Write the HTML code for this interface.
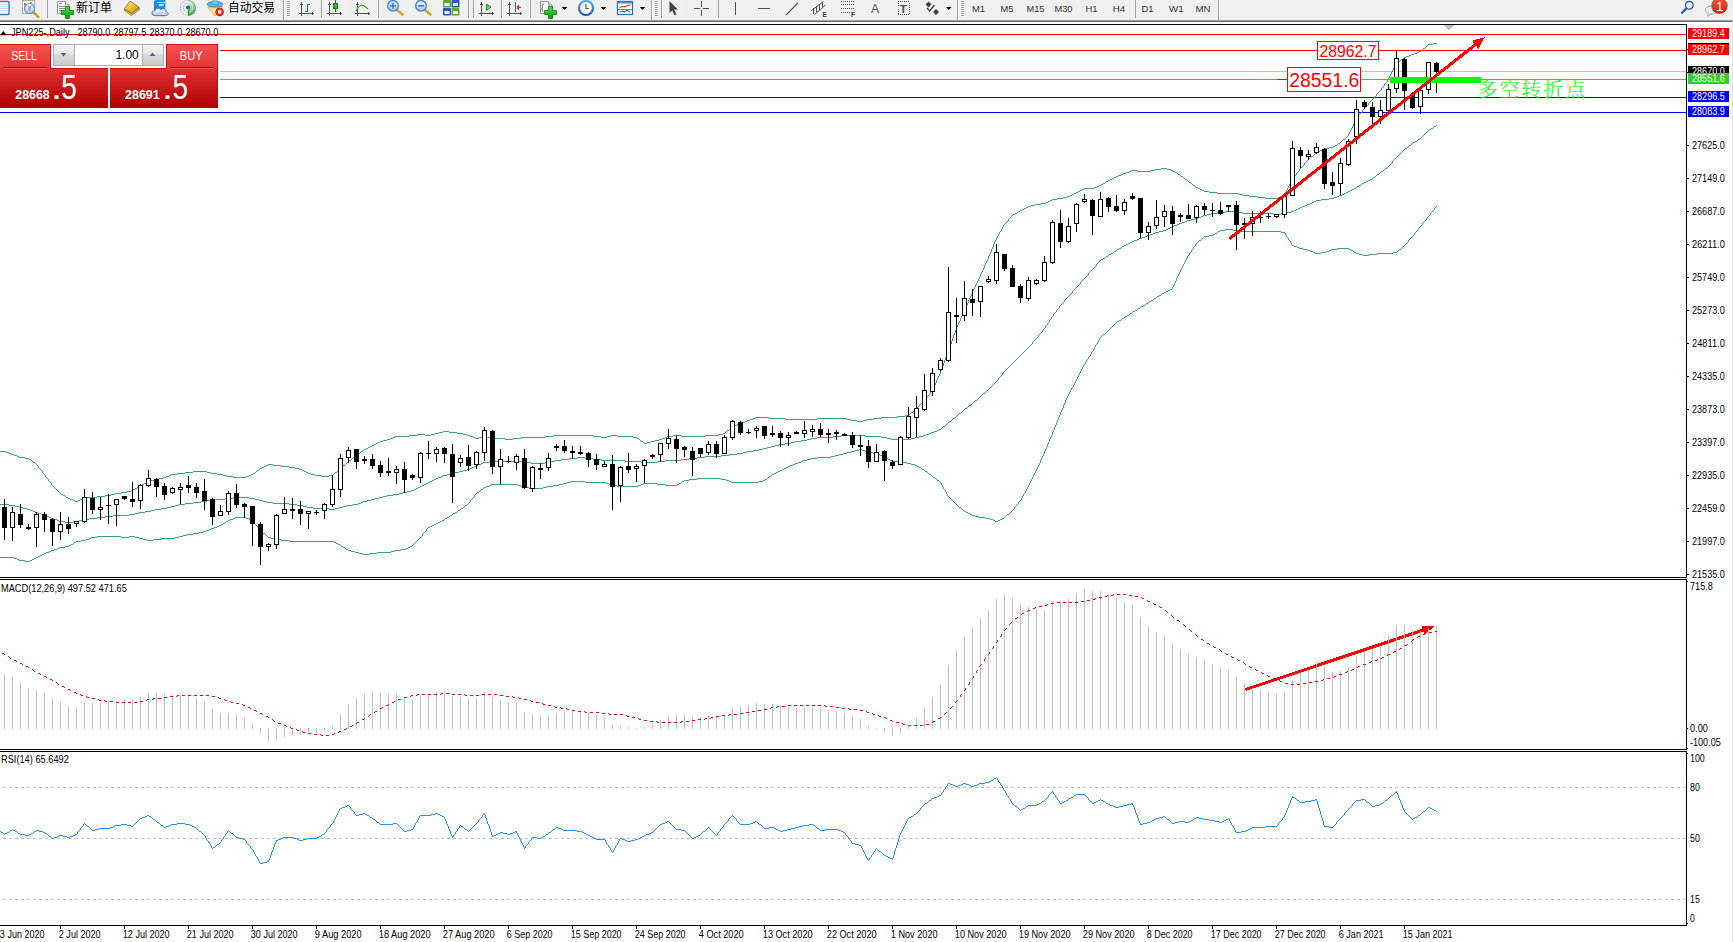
<!DOCTYPE html>
<html><head><meta charset="utf-8"><title>JPN225 Daily</title>
<style>
html,body{margin:0;padding:0;background:#fff;}
body{width:1733px;height:942px;overflow:hidden;position:relative;font-family:"Liberation Sans","Noto Sans CJK SC",sans-serif;}
#tb{position:absolute;left:0;top:0;width:1733px;height:20px;background:#f0f0f0;}
#tbl1{position:absolute;left:0;top:20px;width:1733px;height:1px;background:#a0a0a0;}
#tbl2{position:absolute;left:0;top:21px;width:1733px;height:1px;background:#696969;}
</style></head><body>
<div id="tb"></div><div id="tbl1"></div><div id="tbl2"></div>
<svg width="1733" height="942" viewBox="0 0 1733 942" style="position:absolute;left:0;top:0" font-family="Liberation Sans, sans-serif"><g shape-rendering="crispEdges">
<rect x="0" y="24" width="1687" height="1" fill="#000"/>
<rect x="1686" y="24" width="1" height="902" fill="#000"/>
<rect x="0" y="577" width="1687" height="1" fill="#000"/>
<rect x="0" y="579" width="1687" height="1" fill="#000"/>
<rect x="0" y="749" width="1687" height="1" fill="#000"/>
<rect x="0" y="751" width="1687" height="1" fill="#000"/>
<rect x="0" y="925" width="1687" height="1" fill="#000"/>
<rect x="1686" y="578" width="1" height="1" fill="#fff"/>
<rect x="1686" y="750" width="1" height="1" fill="#fff"/>
<rect x="1732" y="21" width="1" height="921" fill="#e3e3e3"/>
<rect x="0" y="34" width="1686" height="1" fill="#ff0000"/>
<rect x="0" y="50" width="1686" height="1" fill="#ff0000"/>
<rect x="0" y="71" width="1686" height="1" fill="#c0c0c0"/>
<rect x="0" y="79" width="1686" height="1" fill="#32cd32"/>
<rect x="0" y="97" width="1686" height="1" fill="#0000ff"/>
<rect x="0" y="112" width="1686" height="1" fill="#0000ff"/>
</g>
<path d="M955 330h1v3h-1zM945 357h1v3h-1zM993 244h1v3h-1zM944 360h1v3h-1zM948 349h1v3h-1zM968 300h1v3h-1zM980 274h1v3h-1zM947 352h1v3h-1zM941 368h1v3h-1zM940 371h1v3h-1zM956 327h1v3h-1zM964 309h1v3h-1zM988 256h1v3h-1zM951 341h1v3h-1zM936 380h1v3h-1zM960 318h1v3h-1zM972 291h1v3h-1zM984 265h1v3h-1zM991 249h1v3h-1zM949 346h1v3h-1zM953 335h1v3h-1zM952 338h1v3h-1zM943 363h1v3h-1zM1433 43h4v1h-4zM1428 44h5v1h-5zM1427 45h1v1h-1zM1426 46h1v1h-1zM1425 47h1v1h-1zM1423 48h2v1h-2zM1422 49h1v1h-1zM1421 50h1v1h-1zM1419 51h2v1h-2zM1417 52h2v1h-2zM1414 53h3v1h-3zM1411 54h3v1h-3zM1409 55h2v1h-2zM1406 56h3v1h-3zM1404 57h2v1h-2zM1403 58h1v1h-1zM1401 59h2v1h-2zM1400 60h1v1h-1zM1399 61h1v1h-1zM1397 62h2v1h-2zM1396 63h1v1h-1zM1395 64h1v1h-1zM1395 65h1v1h-1zM1394 66h1v1h-1zM1394 67h1v1h-1zM1393 68h1v1h-1zM1393 69h1v1h-1zM1392 70h1v1h-1zM1392 71h1v1h-1zM1391 72h1v1h-1zM1391 73h1v1h-1zM1390 74h1v1h-1zM1390 75h1v1h-1zM1389 76h1v1h-1zM1389 77h1v1h-1zM1388 78h1v1h-1zM1388 79h1v1h-1zM1387 80h1v1h-1zM1387 81h1v1h-1zM1386 82h1v1h-1zM1385 83h1v1h-1zM1384 84h1v1h-1zM1384 85h1v1h-1zM1383 86h1v1h-1zM1382 87h1v1h-1zM1381 88h1v1h-1zM1381 89h1v1h-1zM1380 90h1v1h-1zM1379 91h1v1h-1zM1378 92h1v1h-1zM1377 93h1v1h-1zM1376 94h1v1h-1zM1376 95h1v1h-1zM1375 96h1v1h-1zM1374 97h1v1h-1zM1373 98h1v1h-1zM1372 99h1v1h-1zM1371 100h1v1h-1zM1370 101h1v1h-1zM1369 102h1v1h-1zM1368 103h1v1h-1zM1368 104h1v1h-1zM1367 105h1v1h-1zM1366 106h1v1h-1zM1365 107h1v1h-1zM1364 108h1v1h-1zM1363 109h1v1h-1zM1362 110h1v1h-1zM1362 111h1v1h-1zM1361 112h1v1h-1zM1360 113h1v1h-1zM1359 114h1v1h-1zM1358 115h1v1h-1zM1358 116h1v1h-1zM1357 117h1v1h-1zM1356 118h1v1h-1zM1356 119h1v1h-1zM1355 120h1v1h-1zM1355 121h1v1h-1zM1354 122h1v1h-1zM1354 123h1v1h-1zM1353 124h1v1h-1zM1353 125h1v1h-1zM1352 126h1v1h-1zM1352 127h1v1h-1zM1351 128h1v1h-1zM1351 129h1v1h-1zM1350 130h1v1h-1zM1350 131h1v1h-1zM1349 132h1v1h-1zM1349 133h1v1h-1zM1348 134h1v1h-1zM1348 135h1v1h-1zM1347 136h1v1h-1zM1346 137h1v1h-1zM1345 138h1v1h-1zM1343 139h2v1h-2zM1342 140h1v1h-1zM1341 141h1v1h-1zM1340 142h1v1h-1zM1338 143h2v1h-2zM1337 144h1v1h-1zM1335 145h2v1h-2zM1333 146h2v1h-2zM1329 147h4v1h-4zM1324 148h5v1h-5zM1322 149h2v1h-2zM1320 150h2v1h-2zM1318 151h2v1h-2zM1316 152h2v1h-2zM1315 153h1v1h-1zM1314 154h1v1h-1zM1313 155h1v1h-1zM1311 156h2v1h-2zM1310 157h1v1h-1zM1309 158h1v1h-1zM1308 159h1v1h-1zM1307 160h1v1h-1zM1306 161h1v1h-1zM1305 162h1v1h-1zM1304 163h1v1h-1zM1304 164h1v1h-1zM1303 165h1v1h-1zM1302 166h1v1h-1zM1301 167h1v1h-1zM1161 168h6v1h-6zM1300 168h1v1h-1zM1155 169h6v1h-6zM1167 169h4v1h-4zM1299 169h1v1h-1zM1131 170h6v1h-6zM1151 170h4v1h-4zM1171 170h2v1h-2zM1299 170h1v1h-1zM1129 171h2v1h-2zM1137 171h14v1h-14zM1173 171h2v1h-2zM1298 171h1v1h-1zM1126 172h3v1h-3zM1175 172h2v1h-2zM1297 172h1v1h-1zM1123 173h3v1h-3zM1177 173h1v1h-1zM1296 173h1v1h-1zM1121 174h2v1h-2zM1178 174h2v1h-2zM1296 174h1v1h-1zM1118 175h3v1h-3zM1180 175h1v1h-1zM1295 175h1v1h-1zM1116 176h2v1h-2zM1181 176h2v1h-2zM1294 176h1v1h-1zM1114 177h2v1h-2zM1183 177h1v1h-1zM1293 177h1v1h-1zM1112 178h2v1h-2zM1184 178h1v1h-1zM1293 178h1v1h-1zM1110 179h2v1h-2zM1185 179h2v1h-2zM1292 179h1v1h-1zM1108 180h2v1h-2zM1187 180h1v1h-1zM1291 180h1v1h-1zM1106 181h2v1h-2zM1188 181h1v1h-1zM1291 181h1v1h-1zM1105 182h1v1h-1zM1189 182h2v1h-2zM1290 182h1v1h-1zM1103 183h2v1h-2zM1191 183h1v1h-1zM1290 183h1v1h-1zM1101 184h2v1h-2zM1192 184h1v1h-1zM1289 184h1v1h-1zM1099 185h2v1h-2zM1193 185h2v1h-2zM1289 185h1v1h-1zM1097 186h2v1h-2zM1195 186h1v1h-1zM1288 186h1v1h-1zM1094 187h3v1h-3zM1196 187h2v1h-2zM1288 187h1v1h-1zM1084 188h10v1h-10zM1198 188h2v1h-2zM1287 188h1v1h-1zM1082 189h2v1h-2zM1200 189h2v1h-2zM1287 189h1v1h-1zM1080 190h2v1h-2zM1202 190h2v1h-2zM1286 190h1v1h-1zM1078 191h2v1h-2zM1204 191h5v1h-5zM1286 191h1v1h-1zM1076 192h2v1h-2zM1209 192h8v1h-8zM1285 192h1v1h-1zM1074 193h2v1h-2zM1217 193h22v1h-22zM1285 193h1v1h-1zM1072 194h2v1h-2zM1239 194h4v1h-4zM1284 194h1v1h-1zM1070 195h2v1h-2zM1243 195h6v1h-6zM1282 195h2v1h-2zM1067 196h3v1h-3zM1249 196h8v1h-8zM1280 196h2v1h-2zM1063 197h4v1h-4zM1257 197h8v1h-8zM1278 197h2v1h-2zM1057 198h6v1h-6zM1265 198h13v1h-13zM1052 199h5v1h-5zM1050 200h2v1h-2zM1048 201h2v1h-2zM1046 202h2v1h-2zM1041 203h5v1h-5zM1035 204h6v1h-6zM1031 205h4v1h-4zM1028 206h3v1h-3zM1026 207h2v1h-2zM1024 208h2v1h-2zM1022 209h2v1h-2zM1020 210h2v1h-2zM1018 211h2v1h-2zM1017 212h1v1h-1zM1015 213h2v1h-2zM1013 214h2v1h-2zM1012 215h1v1h-1zM1011 216h1v1h-1zM1010 217h1v1h-1zM1009 218h1v1h-1zM1008 219h1v1h-1zM1008 220h1v1h-1zM1007 221h1v1h-1zM1006 222h1v1h-1zM1005 223h1v1h-1zM1004 224h1v1h-1zM1003 225h1v1h-1zM1003 226h1v1h-1zM1002 227h1v1h-1zM1002 228h1v1h-1zM1001 229h1v1h-1zM1001 230h1v1h-1zM1000 231h1v1h-1zM999 232h1v1h-1zM999 233h1v1h-1zM998 234h1v1h-1zM998 235h1v1h-1zM997 236h1v1h-1zM997 237h1v1h-1zM996 238h1v1h-1zM996 239h1v1h-1zM995 240h1v1h-1zM995 241h1v1h-1zM994 242h1v1h-1zM994 243h1v1h-1zM992 247h1v1h-1zM992 248h1v1h-1zM990 252h1v1h-1zM990 253h1v1h-1zM989 254h1v1h-1zM989 255h1v1h-1zM987 259h1v1h-1zM987 260h1v1h-1zM986 261h1v1h-1zM986 262h1v1h-1zM985 263h1v1h-1zM985 264h1v1h-1zM983 268h1v1h-1zM983 269h1v1h-1zM982 270h1v1h-1zM982 271h1v1h-1zM981 272h1v1h-1zM981 273h1v1h-1zM979 277h1v1h-1zM979 278h1v1h-1zM978 279h1v1h-1zM978 280h1v1h-1zM977 281h1v1h-1zM977 282h1v1h-1zM976 283h1v1h-1zM976 284h1v1h-1zM975 285h1v1h-1zM975 286h1v1h-1zM974 287h1v1h-1zM974 288h1v1h-1zM973 289h1v1h-1zM973 290h1v1h-1zM971 294h1v1h-1zM971 295h1v1h-1zM970 296h1v1h-1zM970 297h1v1h-1zM969 298h1v1h-1zM969 299h1v1h-1zM967 303h1v1h-1zM967 304h1v1h-1zM966 305h1v1h-1zM966 306h1v1h-1zM965 307h1v1h-1zM965 308h1v1h-1zM963 312h1v1h-1zM963 313h1v1h-1zM962 314h1v1h-1zM962 315h1v1h-1zM961 316h1v1h-1zM961 317h1v1h-1zM959 321h1v1h-1zM959 322h1v1h-1zM958 323h1v1h-1zM958 324h1v1h-1zM957 325h1v1h-1zM957 326h1v1h-1zM954 333h1v1h-1zM954 334h1v1h-1zM950 344h1v1h-1zM950 345h1v1h-1zM946 355h1v1h-1zM946 356h1v1h-1zM942 366h1v1h-1zM942 367h1v1h-1zM939 374h1v1h-1zM939 375h1v1h-1zM938 376h1v1h-1zM938 377h1v1h-1zM937 378h1v1h-1zM937 379h1v1h-1zM935 383h1v1h-1zM935 384h1v1h-1zM934 385h1v1h-1zM934 386h1v1h-1zM933 387h1v1h-1zM933 388h1v1h-1zM932 389h1v1h-1zM932 390h1v1h-1zM931 391h1v1h-1zM930 392h1v1h-1zM930 393h1v1h-1zM929 394h1v1h-1zM928 395h1v1h-1zM927 396h1v1h-1zM926 397h1v1h-1zM926 398h1v1h-1zM925 399h1v1h-1zM924 400h1v1h-1zM923 401h1v1h-1zM922 402h1v1h-1zM921 403h1v1h-1zM920 404h1v1h-1zM919 405h1v1h-1zM918 406h1v1h-1zM917 407h1v1h-1zM916 408h1v1h-1zM915 409h1v1h-1zM914 410h1v1h-1zM913 411h1v1h-1zM911 412h2v1h-2zM910 413h1v1h-1zM909 414h1v1h-1zM905 415h4v1h-4zM897 416h8v1h-8zM755 417h14v1h-14zM881 417h16v1h-16zM753 418h2v1h-2zM769 418h16v1h-16zM817 418h30v1h-30zM873 418h8v1h-8zM750 419h3v1h-3zM785 419h32v1h-32zM847 419h4v1h-4zM867 419h6v1h-6zM747 420h3v1h-3zM851 420h6v1h-6zM863 420h4v1h-4zM745 421h2v1h-2zM857 421h6v1h-6zM742 422h3v1h-3zM739 423h3v1h-3zM737 424h2v1h-2zM734 425h3v1h-3zM732 426h2v1h-2zM731 427h1v1h-1zM730 428h1v1h-1zM729 429h1v1h-1zM727 430h2v1h-2zM443 431h6v1h-6zM726 431h1v1h-1zM439 432h4v1h-4zM449 432h8v1h-8zM725 432h1v1h-1zM435 433h4v1h-4zM457 433h6v1h-6zM723 433h2v1h-2zM417 434h8v1h-8zM431 434h4v1h-4zM463 434h4v1h-4zM719 434h4v1h-4zM409 435h8v1h-8zM425 435h6v1h-6zM467 435h3v1h-3zM553 435h40v1h-40zM611 435h6v1h-6zM673 435h8v1h-8zM705 435h14v1h-14zM395 436h14v1h-14zM470 436h3v1h-3zM483 436h4v1h-4zM545 436h8v1h-8zM593 436h8v1h-8zM607 436h4v1h-4zM617 436h16v1h-16zM667 436h6v1h-6zM681 436h24v1h-24zM393 437h2v1h-2zM473 437h2v1h-2zM479 437h4v1h-4zM487 437h4v1h-4zM521 437h24v1h-24zM601 437h6v1h-6zM633 437h4v1h-4zM665 437h2v1h-2zM390 438h3v1h-3zM475 438h4v1h-4zM491 438h14v1h-14zM513 438h8v1h-8zM637 438h2v1h-2zM662 438h3v1h-3zM387 439h3v1h-3zM505 439h8v1h-8zM639 439h1v1h-1zM659 439h3v1h-3zM383 440h4v1h-4zM640 440h1v1h-1zM655 440h4v1h-4zM380 441h3v1h-3zM641 441h2v1h-2zM651 441h4v1h-4zM378 442h2v1h-2zM643 442h1v1h-1zM647 442h4v1h-4zM376 443h2v1h-2zM644 443h3v1h-3zM374 444h2v1h-2zM372 445h2v1h-2zM370 446h2v1h-2zM368 447h2v1h-2zM366 448h2v1h-2zM364 449h2v1h-2zM363 450h1v1h-1zM0 451h6v1h-6zM361 451h2v1h-2zM6 452h3v1h-3zM360 452h1v1h-1zM9 453h2v1h-2zM359 453h1v1h-1zM11 454h3v1h-3zM357 454h2v1h-2zM14 455h3v1h-3zM356 455h1v1h-1zM17 456h2v1h-2zM355 456h1v1h-1zM19 457h6v1h-6zM353 457h2v1h-2zM25 458h4v1h-4zM352 458h1v1h-1zM29 459h2v1h-2zM351 459h1v1h-1zM31 460h1v1h-1zM349 460h2v1h-2zM32 461h1v1h-1zM348 461h1v1h-1zM33 462h2v1h-2zM347 462h1v1h-1zM35 463h1v1h-1zM346 463h1v1h-1zM36 464h1v1h-1zM268 464h5v1h-5zM345 464h1v1h-1zM37 465h1v1h-1zM266 465h2v1h-2zM273 465h8v1h-8zM343 465h2v1h-2zM38 466h1v1h-1zM264 466h2v1h-2zM281 466h8v1h-8zM342 466h1v1h-1zM38 467h1v1h-1zM262 467h2v1h-2zM289 467h6v1h-6zM341 467h1v1h-1zM39 468h1v1h-1zM260 468h2v1h-2zM295 468h4v1h-4zM340 468h1v1h-1zM40 469h1v1h-1zM259 469h1v1h-1zM299 469h3v1h-3zM339 469h1v1h-1zM41 470h1v1h-1zM257 470h2v1h-2zM302 470h2v1h-2zM338 470h1v1h-1zM42 471h1v1h-1zM193 471h14v1h-14zM256 471h1v1h-1zM304 471h2v1h-2zM337 471h1v1h-1zM42 472h1v1h-1zM185 472h8v1h-8zM207 472h4v1h-4zM255 472h1v1h-1zM306 472h2v1h-2zM335 472h2v1h-2zM43 473h1v1h-1zM177 473h8v1h-8zM211 473h6v1h-6zM253 473h2v1h-2zM308 473h3v1h-3zM334 473h1v1h-1zM44 474h1v1h-1zM171 474h6v1h-6zM217 474h6v1h-6zM251 474h2v1h-2zM311 474h4v1h-4zM333 474h1v1h-1zM45 475h1v1h-1zM169 475h2v1h-2zM223 475h4v1h-4zM249 475h2v1h-2zM315 475h6v1h-6zM329 475h4v1h-4zM45 476h1v1h-1zM166 476h3v1h-3zM227 476h6v1h-6zM246 476h3v1h-3zM321 476h8v1h-8zM46 477h1v1h-1zM163 477h3v1h-3zM233 477h13v1h-13zM47 478h1v1h-1zM159 478h4v1h-4zM48 479h1v1h-1zM155 479h4v1h-4zM48 480h1v1h-1zM151 480h4v1h-4zM49 481h1v1h-1zM148 481h3v1h-3zM50 482h1v1h-1zM146 482h2v1h-2zM51 483h1v1h-1zM144 483h2v1h-2zM51 484h1v1h-1zM142 484h2v1h-2zM52 485h1v1h-1zM140 485h2v1h-2zM53 486h1v1h-1zM138 486h2v1h-2zM54 487h1v1h-1zM137 487h1v1h-1zM55 488h1v1h-1zM135 488h2v1h-2zM56 489h1v1h-1zM133 489h2v1h-2zM57 490h1v1h-1zM131 490h2v1h-2zM58 491h1v1h-1zM127 491h4v1h-4zM59 492h1v1h-1zM121 492h6v1h-6zM60 493h1v1h-1zM115 493h6v1h-6zM61 494h2v1h-2zM111 494h4v1h-4zM63 495h2v1h-2zM105 495h6v1h-6zM65 496h1v1h-1zM97 496h8v1h-8zM66 497h2v1h-2zM84 497h13v1h-13zM68 498h2v1h-2zM82 498h2v1h-2zM70 499h3v1h-3zM80 499h2v1h-2zM73 500h2v1h-2zM78 500h2v1h-2zM75 501h3v1h-3z" fill="#32aa6a" shape-rendering="crispEdges"/>
<path d="M1436 125h1v1h-1zM1434 126h2v1h-2zM1433 127h1v1h-1zM1431 128h2v1h-2zM1429 129h2v1h-2zM1428 130h1v1h-1zM1427 131h1v1h-1zM1426 132h1v1h-1zM1425 133h1v1h-1zM1424 134h1v1h-1zM1423 135h1v1h-1zM1422 136h1v1h-1zM1421 137h1v1h-1zM1420 138h1v1h-1zM1418 139h2v1h-2zM1417 140h1v1h-1zM1415 141h2v1h-2zM1413 142h2v1h-2zM1412 143h1v1h-1zM1411 144h1v1h-1zM1409 145h2v1h-2zM1408 146h1v1h-1zM1407 147h1v1h-1zM1405 148h2v1h-2zM1404 149h1v1h-1zM1403 150h1v1h-1zM1402 151h1v1h-1zM1401 152h1v1h-1zM1400 153h1v1h-1zM1399 154h1v1h-1zM1398 155h1v1h-1zM1397 156h1v1h-1zM1396 157h1v1h-1zM1395 158h1v1h-1zM1394 159h1v1h-1zM1393 160h1v1h-1zM1392 161h1v1h-1zM1392 162h1v1h-1zM1391 163h1v1h-1zM1390 164h1v1h-1zM1389 165h1v1h-1zM1388 166h1v1h-1zM1387 167h1v1h-1zM1385 168h2v1h-2zM1384 169h1v1h-1zM1383 170h1v1h-1zM1381 171h2v1h-2zM1380 172h1v1h-1zM1379 173h1v1h-1zM1377 174h2v1h-2zM1376 175h1v1h-1zM1375 176h1v1h-1zM1373 177h2v1h-2zM1372 178h1v1h-1zM1370 179h2v1h-2zM1368 180h2v1h-2zM1366 181h2v1h-2zM1364 182h2v1h-2zM1362 183h2v1h-2zM1361 184h1v1h-1zM1359 185h2v1h-2zM1357 186h2v1h-2zM1356 187h1v1h-1zM1354 188h2v1h-2zM1352 189h2v1h-2zM1350 190h2v1h-2zM1348 191h2v1h-2zM1346 192h2v1h-2zM1344 193h2v1h-2zM1342 194h2v1h-2zM1339 195h3v1h-3zM1337 196h2v1h-2zM1334 197h3v1h-3zM1329 198h5v1h-5zM1321 199h8v1h-8zM1316 200h5v1h-5zM1314 201h2v1h-2zM1312 202h2v1h-2zM1310 203h2v1h-2zM1307 204h3v1h-3zM1305 205h2v1h-2zM1302 206h3v1h-3zM1300 207h2v1h-2zM1298 208h2v1h-2zM1296 209h2v1h-2zM1294 210h2v1h-2zM1225 211h14v1h-14zM1291 211h3v1h-3zM1217 212h8v1h-8zM1239 212h4v1h-4zM1287 212h4v1h-4zM1211 213h6v1h-6zM1243 213h30v1h-30zM1281 213h6v1h-6zM1207 214h4v1h-4zM1273 214h8v1h-8zM1203 215h4v1h-4zM1201 216h2v1h-2zM1198 217h3v1h-3zM1195 218h3v1h-3zM1191 219h4v1h-4zM1187 220h4v1h-4zM1185 221h2v1h-2zM1182 222h3v1h-3zM1179 223h3v1h-3zM1177 224h2v1h-2zM1174 225h3v1h-3zM1172 226h2v1h-2zM1170 227h2v1h-2zM1168 228h2v1h-2zM1166 229h2v1h-2zM1163 230h3v1h-3zM1159 231h4v1h-4zM1155 232h4v1h-4zM1153 233h2v1h-2zM1150 234h3v1h-3zM1147 235h3v1h-3zM1145 236h2v1h-2zM1142 237h3v1h-3zM1139 238h3v1h-3zM1137 239h2v1h-2zM1134 240h3v1h-3zM1132 241h2v1h-2zM1130 242h2v1h-2zM1128 243h2v1h-2zM1126 244h2v1h-2zM1124 245h2v1h-2zM1122 246h2v1h-2zM1121 247h1v1h-1zM1119 248h2v1h-2zM1117 249h2v1h-2zM1116 250h1v1h-1zM1114 251h2v1h-2zM1113 252h1v1h-1zM1111 253h2v1h-2zM1109 254h2v1h-2zM1108 255h1v1h-1zM1106 256h2v1h-2zM1105 257h1v1h-1zM1103 258h2v1h-2zM1101 259h2v1h-2zM1100 260h1v1h-1zM1099 261h1v1h-1zM1098 262h1v1h-1zM1097 263h1v1h-1zM1096 264h1v1h-1zM1096 265h1v1h-1zM1095 266h1v1h-1zM1094 267h1v1h-1zM1093 268h1v1h-1zM1092 269h1v1h-1zM1091 270h1v1h-1zM1090 271h1v1h-1zM1089 272h1v1h-1zM1088 273h1v1h-1zM1088 274h1v1h-1zM1087 275h1v1h-1zM1086 276h1v1h-1zM1085 277h1v1h-1zM1084 278h1v1h-1zM1083 279h1v1h-1zM1082 280h1v1h-1zM1081 281h1v1h-1zM1080 282h1v1h-1zM1080 283h1v1h-1zM1079 284h1v1h-1zM1078 285h1v1h-1zM1077 286h1v1h-1zM1076 287h1v1h-1zM1075 288h1v1h-1zM1074 289h1v1h-1zM1073 290h1v1h-1zM1072 291h1v1h-1zM1072 292h1v1h-1zM1071 293h1v1h-1zM1070 294h1v1h-1zM1069 295h1v1h-1zM1068 296h1v1h-1zM1067 297h1v1h-1zM1066 298h1v1h-1zM1065 299h1v1h-1zM1064 300h1v1h-1zM1064 301h1v1h-1zM1063 302h1v1h-1zM1062 303h1v1h-1zM1061 304h1v1h-1zM1060 305h1v1h-1zM1059 306h1v1h-1zM1059 307h1v1h-1zM1058 308h1v1h-1zM1057 309h1v1h-1zM1056 310h1v1h-1zM1056 311h1v1h-1zM1055 312h1v1h-1zM1054 313h1v1h-1zM1053 314h1v1h-1zM1053 315h1v1h-1zM1052 316h1v1h-1zM1051 317h1v1h-1zM1051 318h1v1h-1zM1050 319h1v1h-1zM1049 320h1v1h-1zM1049 321h1v1h-1zM1048 322h1v1h-1zM1047 323h1v1h-1zM1047 324h1v1h-1zM1046 325h1v1h-1zM1045 326h1v1h-1zM1045 327h1v1h-1zM1044 328h1v1h-1zM1043 329h1v1h-1zM1042 330h1v1h-1zM1042 331h1v1h-1zM1041 332h1v1h-1zM1040 333h1v1h-1zM1039 334h1v1h-1zM1038 335h1v1h-1zM1038 336h1v1h-1zM1037 337h1v1h-1zM1036 338h1v1h-1zM1035 339h1v1h-1zM1034 340h1v1h-1zM1033 341h1v1h-1zM1032 342h1v1h-1zM1032 343h1v1h-1zM1031 344h1v1h-1zM1030 345h1v1h-1zM1029 346h1v1h-1zM1028 347h1v1h-1zM1027 348h1v1h-1zM1026 349h1v1h-1zM1025 350h1v1h-1zM1024 351h1v1h-1zM1023 352h1v1h-1zM1022 353h1v1h-1zM1021 354h1v1h-1zM1020 355h1v1h-1zM1019 356h1v1h-1zM1018 357h1v1h-1zM1017 358h1v1h-1zM1016 359h1v1h-1zM1015 360h1v1h-1zM1014 361h1v1h-1zM1013 362h1v1h-1zM1012 363h1v1h-1zM1011 364h1v1h-1zM1010 365h1v1h-1zM1009 366h1v1h-1zM1008 367h1v1h-1zM1007 368h1v1h-1zM1006 369h1v1h-1zM1005 370h1v1h-1zM1004 371h1v1h-1zM1003 372h1v1h-1zM1002 373h1v1h-1zM1002 374h1v1h-1zM1001 375h1v1h-1zM1000 376h1v1h-1zM999 377h1v1h-1zM998 378h1v1h-1zM998 379h1v1h-1zM997 380h1v1h-1zM996 381h1v1h-1zM995 382h1v1h-1zM994 383h1v1h-1zM993 384h1v1h-1zM992 385h1v1h-1zM991 386h1v1h-1zM990 387h1v1h-1zM989 388h1v1h-1zM988 389h1v1h-1zM987 390h1v1h-1zM986 391h1v1h-1zM985 392h1v1h-1zM983 393h2v1h-2zM982 394h1v1h-1zM981 395h1v1h-1zM980 396h1v1h-1zM979 397h1v1h-1zM978 398h1v1h-1zM977 399h1v1h-1zM975 400h2v1h-2zM974 401h1v1h-1zM973 402h1v1h-1zM972 403h1v1h-1zM971 404h1v1h-1zM969 405h2v1h-2zM968 406h1v1h-1zM967 407h1v1h-1zM965 408h2v1h-2zM964 409h1v1h-1zM963 410h1v1h-1zM962 411h1v1h-1zM961 412h1v1h-1zM959 413h2v1h-2zM958 414h1v1h-1zM957 415h1v1h-1zM956 416h1v1h-1zM955 417h1v1h-1zM953 418h2v1h-2zM952 419h1v1h-1zM951 420h1v1h-1zM949 421h2v1h-2zM948 422h1v1h-1zM947 423h1v1h-1zM946 424h1v1h-1zM945 425h1v1h-1zM943 426h2v1h-2zM942 427h1v1h-1zM941 428h1v1h-1zM939 429h2v1h-2zM937 430h2v1h-2zM934 431h3v1h-3zM931 432h3v1h-3zM929 433h2v1h-2zM926 434h3v1h-3zM841 435h24v1h-24zM923 435h3v1h-3zM833 436h8v1h-8zM865 436h16v1h-16zM919 436h4v1h-4zM817 437h16v1h-16zM881 437h6v1h-6zM915 437h4v1h-4zM811 438h6v1h-6zM887 438h4v1h-4zM911 438h4v1h-4zM807 439h4v1h-4zM891 439h20v1h-20zM801 440h6v1h-6zM795 441h6v1h-6zM791 442h4v1h-4zM785 443h6v1h-6zM779 444h6v1h-6zM775 445h4v1h-4zM771 446h4v1h-4zM767 447h4v1h-4zM763 448h4v1h-4zM759 449h4v1h-4zM753 450h6v1h-6zM747 451h6v1h-6zM743 452h4v1h-4zM737 453h6v1h-6zM729 454h8v1h-8zM721 455h8v1h-8zM705 456h16v1h-16zM577 457h8v1h-8zM697 457h8v1h-8zM569 458h8v1h-8zM585 458h8v1h-8zM689 458h8v1h-8zM561 459h8v1h-8zM593 459h8v1h-8zM681 459h8v1h-8zM555 460h6v1h-6zM601 460h24v1h-24zM665 460h16v1h-16zM489 461h38v1h-38zM551 461h4v1h-4zM625 461h16v1h-16zM657 461h8v1h-8zM483 462h6v1h-6zM527 462h4v1h-4zM545 462h6v1h-6zM641 462h16v1h-16zM481 463h2v1h-2zM531 463h14v1h-14zM478 464h3v1h-3zM476 465h2v1h-2zM474 466h2v1h-2zM472 467h2v1h-2zM470 468h2v1h-2zM467 469h3v1h-3zM463 470h4v1h-4zM459 471h4v1h-4zM455 472h4v1h-4zM451 473h4v1h-4zM447 474h4v1h-4zM443 475h4v1h-4zM441 476h2v1h-2zM438 477h3v1h-3zM436 478h2v1h-2zM434 479h2v1h-2zM432 480h2v1h-2zM430 481h2v1h-2zM428 482h2v1h-2zM426 483h2v1h-2zM424 484h2v1h-2zM422 485h2v1h-2zM420 486h2v1h-2zM418 487h2v1h-2zM416 488h2v1h-2zM414 489h2v1h-2zM411 490h3v1h-3zM407 491h4v1h-4zM403 492h4v1h-4zM399 493h4v1h-4zM393 494h6v1h-6zM387 495h6v1h-6zM383 496h4v1h-4zM233 497h16v1h-16zM379 497h4v1h-4zM225 498h8v1h-8zM249 498h6v1h-6zM375 498h4v1h-4zM211 499h14v1h-14zM255 499h4v1h-4zM371 499h4v1h-4zM207 500h4v1h-4zM259 500h4v1h-4zM367 500h4v1h-4zM201 501h6v1h-6zM263 501h4v1h-4zM363 501h4v1h-4zM193 502h8v1h-8zM267 502h6v1h-6zM361 502h2v1h-2zM185 503h8v1h-8zM273 503h16v1h-16zM358 503h3v1h-3zM0 504h9v1h-9zM179 504h6v1h-6zM289 504h8v1h-8zM353 504h5v1h-5zM9 505h6v1h-6zM175 505h4v1h-4zM297 505h6v1h-6zM347 505h6v1h-6zM15 506h4v1h-4zM171 506h4v1h-4zM303 506h4v1h-4zM343 506h4v1h-4zM19 507h4v1h-4zM167 507h4v1h-4zM307 507h6v1h-6zM339 507h4v1h-4zM23 508h4v1h-4zM161 508h6v1h-6zM313 508h16v1h-16zM335 508h4v1h-4zM27 509h3v1h-3zM155 509h6v1h-6zM329 509h6v1h-6zM30 510h3v1h-3zM151 510h4v1h-4zM33 511h2v1h-2zM145 511h6v1h-6zM35 512h3v1h-3zM139 512h6v1h-6zM38 513h3v1h-3zM135 513h4v1h-4zM41 514h2v1h-2zM129 514h6v1h-6zM43 515h3v1h-3zM113 515h16v1h-16zM46 516h3v1h-3zM105 516h8v1h-8zM49 517h2v1h-2zM97 517h8v1h-8zM51 518h3v1h-3zM89 518h8v1h-8zM54 519h3v1h-3zM83 519h6v1h-6zM57 520h2v1h-2zM79 520h4v1h-4zM59 521h6v1h-6zM73 521h6v1h-6zM65 522h8v1h-8z" fill="#32aa6a" shape-rendering="crispEdges"/>
<path d="M1056 422h1v3h-1zM1060 412h1v3h-1zM1176 278h1v3h-1zM1049 439h1v3h-1zM1063 405h1v3h-1zM1044 451h1v3h-1zM1052 432h1v3h-1zM1058 417h1v3h-1zM1065 400h1v3h-1zM1040 460h1v3h-1zM1047 444h1v3h-1zM1054 427h1v3h-1zM1436 206h1v1h-1zM1435 207h1v1h-1zM1434 208h1v1h-1zM1434 209h1v1h-1zM1433 210h1v1h-1zM1432 211h1v1h-1zM1431 212h1v1h-1zM1430 213h1v1h-1zM1430 214h1v1h-1zM1429 215h1v1h-1zM1428 216h1v1h-1zM1427 217h1v1h-1zM1426 218h1v1h-1zM1426 219h1v1h-1zM1425 220h1v1h-1zM1424 221h1v1h-1zM1423 222h1v1h-1zM1422 223h1v1h-1zM1422 224h1v1h-1zM1421 225h1v1h-1zM1420 226h1v1h-1zM1419 227h1v1h-1zM1418 228h1v1h-1zM1225 229h8v1h-8zM1418 229h1v1h-1zM1220 230h5v1h-5zM1233 230h8v1h-8zM1417 230h1v1h-1zM1218 231h2v1h-2zM1241 231h40v1h-40zM1416 231h1v1h-1zM1217 232h1v1h-1zM1281 232h4v1h-4zM1415 232h1v1h-1zM1215 233h2v1h-2zM1285 233h1v1h-1zM1414 233h1v1h-1zM1213 234h2v1h-2zM1285 234h1v1h-1zM1414 234h1v1h-1zM1209 235h4v1h-4zM1286 235h1v1h-1zM1413 235h1v1h-1zM1204 236h5v1h-5zM1286 236h1v1h-1zM1412 236h1v1h-1zM1203 237h1v1h-1zM1287 237h1v1h-1zM1411 237h1v1h-1zM1202 238h1v1h-1zM1288 238h1v1h-1zM1410 238h1v1h-1zM1201 239h1v1h-1zM1288 239h1v1h-1zM1409 239h1v1h-1zM1199 240h2v1h-2zM1289 240h1v1h-1zM1408 240h1v1h-1zM1198 241h1v1h-1zM1290 241h1v1h-1zM1408 241h1v1h-1zM1197 242h1v1h-1zM1290 242h1v1h-1zM1407 242h1v1h-1zM1196 243h1v1h-1zM1291 243h1v1h-1zM1406 243h1v1h-1zM1195 244h1v1h-1zM1291 244h1v1h-1zM1405 244h1v1h-1zM1195 245h1v1h-1zM1292 245h2v1h-2zM1404 245h1v1h-1zM1194 246h1v1h-1zM1294 246h3v1h-3zM1403 246h1v1h-1zM1193 247h1v1h-1zM1297 247h2v1h-2zM1402 247h1v1h-1zM1193 248h1v1h-1zM1299 248h4v1h-4zM1337 248h12v1h-12zM1401 248h1v1h-1zM1192 249h1v1h-1zM1303 249h4v1h-4zM1331 249h6v1h-6zM1349 249h2v1h-2zM1399 249h2v1h-2zM1191 250h1v1h-1zM1307 250h3v1h-3zM1329 250h2v1h-2zM1351 250h2v1h-2zM1398 250h1v1h-1zM1191 251h1v1h-1zM1310 251h3v1h-3zM1326 251h3v1h-3zM1353 251h1v1h-1zM1397 251h1v1h-1zM1190 252h1v1h-1zM1313 252h2v1h-2zM1321 252h5v1h-5zM1354 252h2v1h-2zM1393 252h4v1h-4zM1189 253h1v1h-1zM1315 253h6v1h-6zM1356 253h3v1h-3zM1377 253h16v1h-16zM1189 254h1v1h-1zM1359 254h4v1h-4zM1369 254h8v1h-8zM1188 255h1v1h-1zM1363 255h6v1h-6zM1187 256h1v1h-1zM1187 257h1v1h-1zM1186 258h1v1h-1zM1186 259h1v1h-1zM1185 260h1v1h-1zM1185 261h1v1h-1zM1184 262h1v1h-1zM1184 263h1v1h-1zM1183 264h1v1h-1zM1183 265h1v1h-1zM1182 266h1v1h-1zM1182 267h1v1h-1zM1181 268h1v1h-1zM1181 269h1v1h-1zM1180 270h1v1h-1zM1180 271h1v1h-1zM1179 272h1v1h-1zM1179 273h1v1h-1zM1178 274h1v1h-1zM1178 275h1v1h-1zM1177 276h1v1h-1zM1177 277h1v1h-1zM1175 281h1v1h-1zM1175 282h1v1h-1zM1174 283h1v1h-1zM1174 284h1v1h-1zM1173 285h1v1h-1zM1173 286h1v1h-1zM1172 287h1v1h-1zM1172 288h1v1h-1zM1170 289h2v1h-2zM1168 290h2v1h-2zM1166 291h2v1h-2zM1164 292h2v1h-2zM1162 293h2v1h-2zM1161 294h1v1h-1zM1159 295h2v1h-2zM1157 296h2v1h-2zM1156 297h1v1h-1zM1154 298h2v1h-2zM1153 299h1v1h-1zM1151 300h2v1h-2zM1149 301h2v1h-2zM1148 302h1v1h-1zM1146 303h2v1h-2zM1145 304h1v1h-1zM1143 305h2v1h-2zM1141 306h2v1h-2zM1140 307h1v1h-1zM1138 308h2v1h-2zM1137 309h1v1h-1zM1135 310h2v1h-2zM1133 311h2v1h-2zM1132 312h1v1h-1zM1130 313h2v1h-2zM1129 314h1v1h-1zM1127 315h2v1h-2zM1125 316h2v1h-2zM1124 317h1v1h-1zM1122 318h2v1h-2zM1121 319h1v1h-1zM1119 320h2v1h-2zM1117 321h2v1h-2zM1116 322h1v1h-1zM1115 323h1v1h-1zM1114 324h1v1h-1zM1113 325h1v1h-1zM1112 326h1v1h-1zM1111 327h1v1h-1zM1110 328h1v1h-1zM1109 329h1v1h-1zM1108 330h1v1h-1zM1107 331h1v1h-1zM1106 332h1v1h-1zM1105 333h1v1h-1zM1103 334h2v1h-2zM1102 335h1v1h-1zM1101 336h1v1h-1zM1100 337h1v1h-1zM1099 338h1v1h-1zM1099 339h1v1h-1zM1098 340h1v1h-1zM1098 341h1v1h-1zM1097 342h1v1h-1zM1097 343h1v1h-1zM1096 344h1v1h-1zM1095 345h1v1h-1zM1095 346h1v1h-1zM1094 347h1v1h-1zM1094 348h1v1h-1zM1093 349h1v1h-1zM1093 350h1v1h-1zM1092 351h1v1h-1zM1091 352h1v1h-1zM1091 353h1v1h-1zM1090 354h1v1h-1zM1090 355h1v1h-1zM1089 356h1v1h-1zM1088 357h1v1h-1zM1088 358h1v1h-1zM1087 359h1v1h-1zM1086 360h1v1h-1zM1086 361h1v1h-1zM1085 362h1v1h-1zM1085 363h1v1h-1zM1084 364h1v1h-1zM1083 365h1v1h-1zM1083 366h1v1h-1zM1082 367h1v1h-1zM1082 368h1v1h-1zM1081 369h1v1h-1zM1081 370h1v1h-1zM1080 371h1v1h-1zM1080 372h1v1h-1zM1079 373h1v1h-1zM1079 374h1v1h-1zM1078 375h1v1h-1zM1078 376h1v1h-1zM1077 377h1v1h-1zM1077 378h1v1h-1zM1076 379h1v1h-1zM1076 380h1v1h-1zM1075 381h1v1h-1zM1075 382h1v1h-1zM1074 383h1v1h-1zM1074 384h1v1h-1zM1073 385h1v1h-1zM1073 386h1v1h-1zM1072 387h1v1h-1zM1071 388h1v1h-1zM1071 389h1v1h-1zM1070 390h1v1h-1zM1070 391h1v1h-1zM1069 392h1v1h-1zM1069 393h1v1h-1zM1068 394h1v1h-1zM1068 395h1v1h-1zM1067 396h1v1h-1zM1067 397h1v1h-1zM1066 398h1v1h-1zM1066 399h1v1h-1zM1064 403h1v1h-1zM1064 404h1v1h-1zM1062 408h1v1h-1zM1062 409h1v1h-1zM1061 410h1v1h-1zM1061 411h1v1h-1zM1059 415h1v1h-1zM1059 416h1v1h-1zM1057 420h1v1h-1zM1057 421h1v1h-1zM1055 425h1v1h-1zM1055 426h1v1h-1zM1053 430h1v1h-1zM1053 431h1v1h-1zM1051 435h1v1h-1zM1051 436h1v1h-1zM1050 437h1v1h-1zM1050 438h1v1h-1zM1048 442h1v1h-1zM1048 443h1v1h-1zM1046 447h1v1h-1zM1046 448h1v1h-1zM859 449h3v1h-3zM1045 449h1v1h-1zM855 450h4v1h-4zM862 450h3v1h-3zM1045 450h1v1h-1zM851 451h4v1h-4zM865 451h2v1h-2zM847 452h4v1h-4zM867 452h6v1h-6zM843 453h4v1h-4zM873 453h5v1h-5zM839 454h4v1h-4zM878 454h2v1h-2zM1043 454h1v1h-1zM835 455h4v1h-4zM880 455h2v1h-2zM1043 455h1v1h-1zM831 456h4v1h-4zM882 456h2v1h-2zM1042 456h1v1h-1zM817 457h14v1h-14zM884 457h2v1h-2zM1042 457h1v1h-1zM811 458h6v1h-6zM886 458h2v1h-2zM1041 458h1v1h-1zM807 459h4v1h-4zM888 459h2v1h-2zM1041 459h1v1h-1zM803 460h4v1h-4zM890 460h2v1h-2zM801 461h2v1h-2zM892 461h11v1h-11zM798 462h3v1h-3zM903 462h4v1h-4zM795 463h3v1h-3zM907 463h4v1h-4zM1039 463h1v1h-1zM793 464h2v1h-2zM911 464h4v1h-4zM1039 464h1v1h-1zM790 465h3v1h-3zM915 465h2v1h-2zM1038 465h1v1h-1zM788 466h2v1h-2zM917 466h2v1h-2zM1038 466h1v1h-1zM786 467h2v1h-2zM919 467h2v1h-2zM1037 467h1v1h-1zM784 468h2v1h-2zM921 468h1v1h-1zM1037 468h1v1h-1zM782 469h2v1h-2zM922 469h2v1h-2zM1036 469h1v1h-1zM780 470h2v1h-2zM924 470h1v1h-1zM1036 470h1v1h-1zM778 471h2v1h-2zM925 471h2v1h-2zM1035 471h1v1h-1zM776 472h2v1h-2zM927 472h1v1h-1zM1035 472h1v1h-1zM774 473h2v1h-2zM928 473h1v1h-1zM1034 473h1v1h-1zM772 474h2v1h-2zM929 474h2v1h-2zM1034 474h1v1h-1zM771 475h1v1h-1zM931 475h1v1h-1zM1033 475h1v1h-1zM769 476h2v1h-2zM932 476h1v1h-1zM1033 476h1v1h-1zM768 477h1v1h-1zM933 477h2v1h-2zM1032 477h1v1h-1zM697 478h24v1h-24zM767 478h1v1h-1zM935 478h1v1h-1zM1032 478h1v1h-1zM689 479h8v1h-8zM721 479h5v1h-5zM765 479h2v1h-2zM936 479h1v1h-1zM1031 479h1v1h-1zM684 480h5v1h-5zM726 480h3v1h-3zM763 480h2v1h-2zM937 480h2v1h-2zM1031 480h1v1h-1zM571 481h14v1h-14zM682 481h2v1h-2zM729 481h2v1h-2zM759 481h4v1h-4zM939 481h1v1h-1zM1030 481h1v1h-1zM567 482h4v1h-4zM585 482h21v1h-21zM681 482h1v1h-1zM731 482h28v1h-28zM940 482h1v1h-1zM1030 482h1v1h-1zM563 483h4v1h-4zM606 483h3v1h-3zM643 483h14v1h-14zM679 483h2v1h-2zM941 483h1v1h-1zM1029 483h1v1h-1zM491 484h27v1h-27zM559 484h4v1h-4zM609 484h2v1h-2zM641 484h2v1h-2zM657 484h8v1h-8zM677 484h2v1h-2zM941 484h1v1h-1zM1029 484h1v1h-1zM489 485h2v1h-2zM518 485h3v1h-3zM553 485h6v1h-6zM611 485h6v1h-6zM638 485h3v1h-3zM665 485h12v1h-12zM942 485h1v1h-1zM1028 485h1v1h-1zM486 486h3v1h-3zM521 486h2v1h-2zM547 486h6v1h-6zM617 486h21v1h-21zM942 486h1v1h-1zM1028 486h1v1h-1zM484 487h2v1h-2zM523 487h6v1h-6zM543 487h4v1h-4zM943 487h1v1h-1zM1027 487h1v1h-1zM483 488h1v1h-1zM529 488h14v1h-14zM943 488h1v1h-1zM1027 488h1v1h-1zM481 489h2v1h-2zM944 489h1v1h-1zM1026 489h1v1h-1zM480 490h1v1h-1zM945 490h1v1h-1zM1026 490h1v1h-1zM479 491h1v1h-1zM945 491h1v1h-1zM1025 491h1v1h-1zM477 492h2v1h-2zM946 492h1v1h-1zM1025 492h1v1h-1zM476 493h1v1h-1zM946 493h1v1h-1zM1024 493h1v1h-1zM475 494h1v1h-1zM947 494h1v1h-1zM1023 494h1v1h-1zM474 495h1v1h-1zM947 495h1v1h-1zM1023 495h1v1h-1zM474 496h1v1h-1zM948 496h1v1h-1zM1022 496h1v1h-1zM473 497h1v1h-1zM949 497h1v1h-1zM1022 497h1v1h-1zM472 498h1v1h-1zM950 498h1v1h-1zM1021 498h1v1h-1zM471 499h1v1h-1zM951 499h1v1h-1zM1021 499h1v1h-1zM470 500h1v1h-1zM952 500h1v1h-1zM1020 500h1v1h-1zM470 501h1v1h-1zM953 501h1v1h-1zM1019 501h1v1h-1zM469 502h1v1h-1zM954 502h1v1h-1zM1018 502h1v1h-1zM468 503h1v1h-1zM955 503h1v1h-1zM1018 503h1v1h-1zM467 504h1v1h-1zM956 504h1v1h-1zM1017 504h1v1h-1zM465 505h2v1h-2zM957 505h1v1h-1zM1016 505h1v1h-1zM464 506h1v1h-1zM958 506h1v1h-1zM1015 506h1v1h-1zM463 507h1v1h-1zM959 507h2v1h-2zM1014 507h1v1h-1zM461 508h2v1h-2zM961 508h1v1h-1zM1014 508h1v1h-1zM460 509h1v1h-1zM962 509h1v1h-1zM1013 509h1v1h-1zM458 510h2v1h-2zM963 510h1v1h-1zM1012 510h1v1h-1zM457 511h1v1h-1zM964 511h2v1h-2zM1011 511h1v1h-1zM455 512h2v1h-2zM966 512h2v1h-2zM1010 512h1v1h-1zM453 513h2v1h-2zM968 513h2v1h-2zM1009 513h1v1h-1zM452 514h1v1h-1zM970 514h2v1h-2zM1007 514h2v1h-2zM450 515h2v1h-2zM972 515h3v1h-3zM1006 515h1v1h-1zM449 516h1v1h-1zM975 516h4v1h-4zM1005 516h1v1h-1zM235 517h11v1h-11zM447 517h2v1h-2zM979 517h6v1h-6zM1004 517h1v1h-1zM233 518h2v1h-2zM246 518h3v1h-3zM445 518h2v1h-2zM985 518h5v1h-5zM1002 518h2v1h-2zM230 519h3v1h-3zM249 519h2v1h-2zM444 519h1v1h-1zM990 519h3v1h-3zM1000 519h2v1h-2zM228 520h2v1h-2zM251 520h2v1h-2zM442 520h2v1h-2zM993 520h2v1h-2zM998 520h2v1h-2zM226 521h2v1h-2zM253 521h1v1h-1zM440 521h2v1h-2zM995 521h3v1h-3zM225 522h1v1h-1zM254 522h1v1h-1zM438 522h2v1h-2zM223 523h2v1h-2zM254 523h1v1h-1zM436 523h2v1h-2zM221 524h2v1h-2zM255 524h1v1h-1zM434 524h2v1h-2zM219 525h2v1h-2zM256 525h1v1h-1zM432 525h2v1h-2zM217 526h2v1h-2zM257 526h1v1h-1zM430 526h2v1h-2zM214 527h3v1h-3zM258 527h1v1h-1zM428 527h2v1h-2zM211 528h3v1h-3zM258 528h1v1h-1zM427 528h1v1h-1zM209 529h2v1h-2zM259 529h1v1h-1zM426 529h1v1h-1zM206 530h3v1h-3zM260 530h1v1h-1zM426 530h1v1h-1zM203 531h3v1h-3zM261 531h1v1h-1zM425 531h1v1h-1zM199 532h4v1h-4zM262 532h1v1h-1zM424 532h1v1h-1zM193 533h6v1h-6zM263 533h2v1h-2zM423 533h1v1h-1zM187 534h6v1h-6zM265 534h1v1h-1zM422 534h1v1h-1zM183 535h4v1h-4zM266 535h1v1h-1zM422 535h1v1h-1zM97 536h24v1h-24zM129 536h6v1h-6zM179 536h4v1h-4zM267 536h1v1h-1zM421 536h1v1h-1zM91 537h6v1h-6zM121 537h8v1h-8zM135 537h4v1h-4zM175 537h4v1h-4zM268 537h3v1h-3zM420 537h1v1h-1zM89 538h2v1h-2zM139 538h4v1h-4zM161 538h14v1h-14zM271 538h4v1h-4zM419 538h1v1h-1zM86 539h3v1h-3zM143 539h4v1h-4zM153 539h8v1h-8zM275 539h6v1h-6zM418 539h1v1h-1zM81 540h5v1h-5zM147 540h6v1h-6zM281 540h8v1h-8zM417 540h1v1h-1zM76 541h5v1h-5zM289 541h45v1h-45zM416 541h1v1h-1zM74 542h2v1h-2zM334 542h2v1h-2zM415 542h1v1h-1zM73 543h1v1h-1zM336 543h2v1h-2zM414 543h1v1h-1zM71 544h2v1h-2zM338 544h2v1h-2zM413 544h1v1h-1zM69 545h2v1h-2zM340 545h1v1h-1zM412 545h1v1h-1zM65 546h4v1h-4zM341 546h2v1h-2zM410 546h2v1h-2zM59 547h6v1h-6zM343 547h2v1h-2zM408 547h2v1h-2zM57 548h2v1h-2zM345 548h1v1h-1zM406 548h2v1h-2zM54 549h3v1h-3zM346 549h2v1h-2zM401 549h5v1h-5zM51 550h3v1h-3zM348 550h3v1h-3zM395 550h6v1h-6zM49 551h2v1h-2zM351 551h4v1h-4zM391 551h4v1h-4zM46 552h3v1h-3zM355 552h4v1h-4zM377 552h14v1h-14zM44 553h2v1h-2zM359 553h4v1h-4zM369 553h8v1h-8zM42 554h2v1h-2zM363 554h6v1h-6zM40 555h2v1h-2zM38 556h2v1h-2zM0 557h14v1h-14zM36 557h2v1h-2zM14 558h3v1h-3zM34 558h2v1h-2zM17 559h2v1h-2zM32 559h2v1h-2zM19 560h6v1h-6zM30 560h2v1h-2zM25 561h5v1h-5z" fill="#32aa6a" shape-rendering="crispEdges"/>
<g shape-rendering="crispEdges">
<rect x="4" y="499" width="1" height="41" fill="#000"/>
<rect x="2" y="507" width="5" height="21" fill="#000"/>
<rect x="12" y="507" width="1" height="34" fill="#000"/>
<rect x="10" y="512" width="5" height="16" fill="#000"/>
<rect x="11" y="513" width="3" height="14" fill="#fff"/>
<rect x="20" y="504" width="1" height="24" fill="#000"/>
<rect x="18" y="514" width="5" height="11" fill="#000"/>
<rect x="28" y="524" width="1" height="6" fill="#000"/>
<rect x="26" y="527" width="5" height="2" fill="#000"/>
<rect x="36" y="512" width="1" height="35" fill="#000"/>
<rect x="34" y="514" width="5" height="14" fill="#000"/>
<rect x="35" y="515" width="3" height="12" fill="#fff"/>
<rect x="44" y="512" width="1" height="20" fill="#000"/>
<rect x="42" y="514" width="5" height="6" fill="#000"/>
<rect x="52" y="518" width="1" height="28" fill="#000"/>
<rect x="50" y="519" width="5" height="13" fill="#000"/>
<rect x="60" y="512" width="1" height="28" fill="#000"/>
<rect x="58" y="524" width="5" height="8" fill="#000"/>
<rect x="59" y="525" width="3" height="6" fill="#fff"/>
<rect x="68" y="517" width="1" height="17" fill="#000"/>
<rect x="66" y="524" width="5" height="5" fill="#000"/>
<rect x="76" y="521" width="1" height="6" fill="#000"/>
<rect x="74" y="521" width="5" height="3" fill="#000"/>
<rect x="75" y="522" width="3" height="1" fill="#fff"/>
<rect x="84" y="489" width="1" height="34" fill="#000"/>
<rect x="82" y="497" width="5" height="25" fill="#000"/>
<rect x="83" y="498" width="3" height="23" fill="#fff"/>
<rect x="92" y="492" width="1" height="22" fill="#000"/>
<rect x="90" y="498" width="5" height="12" fill="#000"/>
<rect x="100" y="497" width="1" height="23" fill="#000"/>
<rect x="98" y="507" width="5" height="3" fill="#000"/>
<rect x="99" y="508" width="3" height="1" fill="#fff"/>
<rect x="108" y="494" width="1" height="30" fill="#000"/>
<rect x="106" y="505" width="5" height="1" fill="#000"/>
<rect x="116" y="499" width="1" height="27" fill="#000"/>
<rect x="114" y="499" width="5" height="6" fill="#000"/>
<rect x="115" y="500" width="3" height="4" fill="#fff"/>
<rect x="124" y="496" width="1" height="4" fill="#000"/>
<rect x="122" y="496" width="5" height="3" fill="#000"/>
<rect x="132" y="482" width="1" height="25" fill="#000"/>
<rect x="130" y="499" width="5" height="3" fill="#000"/>
<rect x="140" y="484" width="1" height="25" fill="#000"/>
<rect x="138" y="485" width="5" height="16" fill="#000"/>
<rect x="139" y="486" width="3" height="14" fill="#fff"/>
<rect x="148" y="470" width="1" height="17" fill="#000"/>
<rect x="146" y="478" width="5" height="8" fill="#000"/>
<rect x="147" y="479" width="3" height="6" fill="#fff"/>
<rect x="156" y="478" width="1" height="19" fill="#000"/>
<rect x="154" y="479" width="5" height="8" fill="#000"/>
<rect x="164" y="483" width="1" height="17" fill="#000"/>
<rect x="162" y="486" width="5" height="9" fill="#000"/>
<rect x="172" y="487" width="1" height="7" fill="#000"/>
<rect x="170" y="488" width="5" height="5" fill="#000"/>
<rect x="171" y="489" width="3" height="3" fill="#fff"/>
<rect x="180" y="483" width="1" height="21" fill="#000"/>
<rect x="178" y="487" width="5" height="3" fill="#000"/>
<rect x="179" y="488" width="3" height="1" fill="#fff"/>
<rect x="188" y="476" width="1" height="17" fill="#000"/>
<rect x="186" y="485" width="5" height="3" fill="#000"/>
<rect x="196" y="483" width="1" height="15" fill="#000"/>
<rect x="194" y="487" width="5" height="6" fill="#000"/>
<rect x="204" y="479" width="1" height="31" fill="#000"/>
<rect x="202" y="491" width="5" height="10" fill="#000"/>
<rect x="212" y="498" width="1" height="27" fill="#000"/>
<rect x="210" y="499" width="5" height="18" fill="#000"/>
<rect x="220" y="505" width="1" height="11" fill="#000"/>
<rect x="218" y="511" width="5" height="5" fill="#000"/>
<rect x="219" y="512" width="3" height="3" fill="#fff"/>
<rect x="228" y="491" width="1" height="24" fill="#000"/>
<rect x="226" y="493" width="5" height="19" fill="#000"/>
<rect x="227" y="494" width="3" height="17" fill="#fff"/>
<rect x="236" y="484" width="1" height="24" fill="#000"/>
<rect x="234" y="493" width="5" height="12" fill="#000"/>
<rect x="244" y="503" width="1" height="15" fill="#000"/>
<rect x="242" y="504" width="5" height="3" fill="#000"/>
<rect x="252" y="506" width="1" height="40" fill="#000"/>
<rect x="250" y="506" width="5" height="18" fill="#000"/>
<rect x="260" y="522" width="1" height="43" fill="#000"/>
<rect x="258" y="524" width="5" height="23" fill="#000"/>
<rect x="268" y="543" width="1" height="8" fill="#000"/>
<rect x="266" y="544" width="5" height="3" fill="#000"/>
<rect x="267" y="545" width="3" height="1" fill="#fff"/>
<rect x="276" y="514" width="1" height="35" fill="#000"/>
<rect x="274" y="515" width="5" height="30" fill="#000"/>
<rect x="275" y="516" width="3" height="28" fill="#fff"/>
<rect x="284" y="497" width="1" height="17" fill="#000"/>
<rect x="282" y="509" width="5" height="5" fill="#000"/>
<rect x="283" y="510" width="3" height="3" fill="#fff"/>
<rect x="292" y="498" width="1" height="21" fill="#000"/>
<rect x="290" y="509" width="5" height="2" fill="#000"/>
<rect x="300" y="501" width="1" height="24" fill="#000"/>
<rect x="298" y="509" width="5" height="5" fill="#000"/>
<rect x="308" y="511" width="1" height="18" fill="#000"/>
<rect x="306" y="511" width="5" height="3" fill="#000"/>
<rect x="307" y="512" width="3" height="1" fill="#fff"/>
<rect x="316" y="510" width="1" height="5" fill="#000"/>
<rect x="314" y="512" width="5" height="1" fill="#000"/>
<rect x="324" y="503" width="1" height="16" fill="#000"/>
<rect x="322" y="504" width="5" height="7" fill="#000"/>
<rect x="323" y="505" width="3" height="5" fill="#fff"/>
<rect x="332" y="475" width="1" height="32" fill="#000"/>
<rect x="330" y="489" width="5" height="16" fill="#000"/>
<rect x="331" y="490" width="3" height="14" fill="#fff"/>
<rect x="340" y="454" width="1" height="43" fill="#000"/>
<rect x="338" y="458" width="5" height="32" fill="#000"/>
<rect x="339" y="459" width="3" height="30" fill="#fff"/>
<rect x="348" y="447" width="1" height="16" fill="#000"/>
<rect x="346" y="450" width="5" height="8" fill="#000"/>
<rect x="347" y="451" width="3" height="6" fill="#fff"/>
<rect x="356" y="449" width="1" height="20" fill="#000"/>
<rect x="354" y="449" width="5" height="13" fill="#000"/>
<rect x="364" y="456" width="1" height="8" fill="#000"/>
<rect x="362" y="459" width="5" height="2" fill="#000"/>
<rect x="372" y="454" width="1" height="15" fill="#000"/>
<rect x="370" y="459" width="5" height="7" fill="#000"/>
<rect x="380" y="461" width="1" height="16" fill="#000"/>
<rect x="378" y="465" width="5" height="8" fill="#000"/>
<rect x="388" y="458" width="1" height="18" fill="#000"/>
<rect x="386" y="471" width="5" height="2" fill="#000"/>
<rect x="396" y="466" width="1" height="18" fill="#000"/>
<rect x="394" y="469" width="5" height="4" fill="#000"/>
<rect x="395" y="470" width="3" height="2" fill="#fff"/>
<rect x="404" y="462" width="1" height="31" fill="#000"/>
<rect x="402" y="469" width="5" height="11" fill="#000"/>
<rect x="412" y="474" width="1" height="6" fill="#000"/>
<rect x="410" y="475" width="5" height="3" fill="#000"/>
<rect x="420" y="452" width="1" height="31" fill="#000"/>
<rect x="418" y="453" width="5" height="25" fill="#000"/>
<rect x="419" y="454" width="3" height="23" fill="#fff"/>
<rect x="428" y="441" width="1" height="18" fill="#000"/>
<rect x="426" y="453" width="5" height="1" fill="#000"/>
<rect x="436" y="447" width="1" height="15" fill="#000"/>
<rect x="434" y="449" width="5" height="5" fill="#000"/>
<rect x="435" y="450" width="3" height="3" fill="#fff"/>
<rect x="444" y="447" width="1" height="16" fill="#000"/>
<rect x="442" y="448" width="5" height="6" fill="#000"/>
<rect x="452" y="444" width="1" height="59" fill="#000"/>
<rect x="450" y="454" width="5" height="23" fill="#000"/>
<rect x="460" y="455" width="1" height="12" fill="#000"/>
<rect x="458" y="458" width="5" height="5" fill="#000"/>
<rect x="459" y="459" width="3" height="3" fill="#fff"/>
<rect x="468" y="445" width="1" height="26" fill="#000"/>
<rect x="466" y="457" width="5" height="9" fill="#000"/>
<rect x="476" y="451" width="1" height="18" fill="#000"/>
<rect x="474" y="452" width="5" height="13" fill="#000"/>
<rect x="475" y="453" width="3" height="11" fill="#fff"/>
<rect x="484" y="427" width="1" height="34" fill="#000"/>
<rect x="482" y="430" width="5" height="23" fill="#000"/>
<rect x="483" y="431" width="3" height="21" fill="#fff"/>
<rect x="492" y="430" width="1" height="44" fill="#000"/>
<rect x="490" y="431" width="5" height="36" fill="#000"/>
<rect x="500" y="449" width="1" height="35" fill="#000"/>
<rect x="498" y="459" width="5" height="8" fill="#000"/>
<rect x="499" y="460" width="3" height="6" fill="#fff"/>
<rect x="508" y="456" width="1" height="7" fill="#000"/>
<rect x="506" y="461" width="5" height="1" fill="#000"/>
<rect x="516" y="454" width="1" height="16" fill="#000"/>
<rect x="514" y="456" width="5" height="7" fill="#000"/>
<rect x="515" y="457" width="3" height="5" fill="#fff"/>
<rect x="524" y="449" width="1" height="40" fill="#000"/>
<rect x="522" y="458" width="5" height="30" fill="#000"/>
<rect x="532" y="466" width="1" height="26" fill="#000"/>
<rect x="530" y="467" width="5" height="22" fill="#000"/>
<rect x="531" y="468" width="3" height="20" fill="#fff"/>
<rect x="540" y="463" width="1" height="16" fill="#000"/>
<rect x="538" y="468" width="5" height="2" fill="#000"/>
<rect x="548" y="453" width="1" height="18" fill="#000"/>
<rect x="546" y="458" width="5" height="10" fill="#000"/>
<rect x="547" y="459" width="3" height="8" fill="#fff"/>
<rect x="556" y="444" width="1" height="7" fill="#000"/>
<rect x="554" y="446" width="5" height="2" fill="#000"/>
<rect x="564" y="440" width="1" height="13" fill="#000"/>
<rect x="562" y="446" width="5" height="5" fill="#000"/>
<rect x="572" y="446" width="1" height="13" fill="#000"/>
<rect x="570" y="451" width="5" height="2" fill="#000"/>
<rect x="580" y="446" width="1" height="9" fill="#000"/>
<rect x="578" y="452" width="5" height="2" fill="#000"/>
<rect x="588" y="452" width="1" height="15" fill="#000"/>
<rect x="586" y="453" width="5" height="7" fill="#000"/>
<rect x="596" y="454" width="1" height="16" fill="#000"/>
<rect x="594" y="459" width="5" height="6" fill="#000"/>
<rect x="604" y="461" width="1" height="6" fill="#000"/>
<rect x="602" y="464" width="5" height="3" fill="#000"/>
<rect x="603" y="465" width="3" height="1" fill="#fff"/>
<rect x="612" y="455" width="1" height="55" fill="#000"/>
<rect x="610" y="464" width="5" height="23" fill="#000"/>
<rect x="620" y="466" width="1" height="36" fill="#000"/>
<rect x="618" y="467" width="5" height="19" fill="#000"/>
<rect x="619" y="468" width="3" height="17" fill="#fff"/>
<rect x="628" y="453" width="1" height="20" fill="#000"/>
<rect x="626" y="466" width="5" height="4" fill="#000"/>
<rect x="636" y="464" width="1" height="18" fill="#000"/>
<rect x="634" y="466" width="5" height="3" fill="#000"/>
<rect x="635" y="467" width="3" height="1" fill="#fff"/>
<rect x="644" y="459" width="1" height="24" fill="#000"/>
<rect x="642" y="460" width="5" height="6" fill="#000"/>
<rect x="643" y="461" width="3" height="4" fill="#fff"/>
<rect x="652" y="454" width="1" height="5" fill="#000"/>
<rect x="650" y="455" width="5" height="2" fill="#000"/>
<rect x="660" y="443" width="1" height="19" fill="#000"/>
<rect x="658" y="443" width="5" height="12" fill="#000"/>
<rect x="659" y="444" width="3" height="10" fill="#fff"/>
<rect x="668" y="429" width="1" height="20" fill="#000"/>
<rect x="666" y="438" width="5" height="6" fill="#000"/>
<rect x="667" y="439" width="3" height="4" fill="#fff"/>
<rect x="676" y="435" width="1" height="28" fill="#000"/>
<rect x="674" y="439" width="5" height="10" fill="#000"/>
<rect x="684" y="446" width="1" height="11" fill="#000"/>
<rect x="682" y="447" width="5" height="3" fill="#000"/>
<rect x="692" y="447" width="1" height="29" fill="#000"/>
<rect x="690" y="451" width="5" height="9" fill="#000"/>
<rect x="700" y="448" width="1" height="9" fill="#000"/>
<rect x="698" y="448" width="5" height="6" fill="#000"/>
<rect x="708" y="441" width="1" height="14" fill="#000"/>
<rect x="706" y="444" width="5" height="9" fill="#000"/>
<rect x="707" y="445" width="3" height="7" fill="#fff"/>
<rect x="716" y="441" width="1" height="17" fill="#000"/>
<rect x="714" y="444" width="5" height="10" fill="#000"/>
<rect x="724" y="435" width="1" height="19" fill="#000"/>
<rect x="722" y="437" width="5" height="17" fill="#000"/>
<rect x="723" y="438" width="3" height="15" fill="#fff"/>
<rect x="732" y="420" width="1" height="20" fill="#000"/>
<rect x="730" y="421" width="5" height="17" fill="#000"/>
<rect x="731" y="422" width="3" height="15" fill="#fff"/>
<rect x="740" y="421" width="1" height="14" fill="#000"/>
<rect x="738" y="422" width="5" height="11" fill="#000"/>
<rect x="748" y="429" width="1" height="5" fill="#000"/>
<rect x="746" y="432" width="5" height="1" fill="#000"/>
<rect x="756" y="426" width="1" height="12" fill="#000"/>
<rect x="754" y="428" width="5" height="3" fill="#000"/>
<rect x="755" y="429" width="3" height="1" fill="#fff"/>
<rect x="764" y="426" width="1" height="13" fill="#000"/>
<rect x="762" y="426" width="5" height="10" fill="#000"/>
<rect x="772" y="426" width="1" height="11" fill="#000"/>
<rect x="770" y="433" width="5" height="2" fill="#000"/>
<rect x="780" y="431" width="1" height="16" fill="#000"/>
<rect x="778" y="433" width="5" height="5" fill="#000"/>
<rect x="788" y="432" width="1" height="14" fill="#000"/>
<rect x="786" y="435" width="5" height="3" fill="#000"/>
<rect x="787" y="436" width="3" height="1" fill="#fff"/>
<rect x="796" y="431" width="1" height="3" fill="#000"/>
<rect x="794" y="432" width="5" height="2" fill="#000"/>
<rect x="804" y="421" width="1" height="17" fill="#000"/>
<rect x="802" y="430" width="5" height="4" fill="#000"/>
<rect x="803" y="431" width="3" height="2" fill="#fff"/>
<rect x="812" y="425" width="1" height="12" fill="#000"/>
<rect x="810" y="429" width="5" height="3" fill="#000"/>
<rect x="811" y="430" width="3" height="1" fill="#fff"/>
<rect x="820" y="423" width="1" height="14" fill="#000"/>
<rect x="818" y="429" width="5" height="6" fill="#000"/>
<rect x="828" y="429" width="1" height="14" fill="#000"/>
<rect x="826" y="433" width="5" height="2" fill="#000"/>
<rect x="836" y="430" width="1" height="10" fill="#000"/>
<rect x="834" y="432" width="5" height="2" fill="#000"/>
<rect x="844" y="433" width="1" height="3" fill="#000"/>
<rect x="842" y="434" width="5" height="2" fill="#000"/>
<rect x="852" y="432" width="1" height="16" fill="#000"/>
<rect x="850" y="435" width="5" height="10" fill="#000"/>
<rect x="860" y="435" width="1" height="21" fill="#000"/>
<rect x="858" y="445" width="5" height="2" fill="#000"/>
<rect x="868" y="440" width="1" height="28" fill="#000"/>
<rect x="866" y="446" width="5" height="16" fill="#000"/>
<rect x="876" y="444" width="1" height="18" fill="#000"/>
<rect x="874" y="452" width="5" height="10" fill="#000"/>
<rect x="875" y="453" width="3" height="8" fill="#fff"/>
<rect x="884" y="450" width="1" height="31" fill="#000"/>
<rect x="882" y="451" width="5" height="10" fill="#000"/>
<rect x="892" y="460" width="1" height="9" fill="#000"/>
<rect x="890" y="462" width="5" height="4" fill="#000"/>
<rect x="900" y="436" width="1" height="29" fill="#000"/>
<rect x="898" y="437" width="5" height="28" fill="#000"/>
<rect x="899" y="438" width="3" height="26" fill="#fff"/>
<rect x="908" y="407" width="1" height="32" fill="#000"/>
<rect x="906" y="416" width="5" height="22" fill="#000"/>
<rect x="907" y="417" width="3" height="20" fill="#fff"/>
<rect x="916" y="396" width="1" height="41" fill="#000"/>
<rect x="914" y="408" width="5" height="10" fill="#000"/>
<rect x="915" y="409" width="3" height="8" fill="#fff"/>
<rect x="924" y="374" width="1" height="37" fill="#000"/>
<rect x="922" y="390" width="5" height="20" fill="#000"/>
<rect x="923" y="391" width="3" height="18" fill="#fff"/>
<rect x="932" y="368" width="1" height="28" fill="#000"/>
<rect x="930" y="373" width="5" height="19" fill="#000"/>
<rect x="931" y="374" width="3" height="17" fill="#fff"/>
<rect x="940" y="358" width="1" height="13" fill="#000"/>
<rect x="938" y="360" width="5" height="10" fill="#000"/>
<rect x="939" y="361" width="3" height="8" fill="#fff"/>
<rect x="948" y="267" width="1" height="95" fill="#000"/>
<rect x="946" y="312" width="5" height="49" fill="#000"/>
<rect x="947" y="313" width="3" height="47" fill="#fff"/>
<rect x="956" y="298" width="1" height="45" fill="#000"/>
<rect x="954" y="315" width="5" height="2" fill="#000"/>
<rect x="964" y="281" width="1" height="40" fill="#000"/>
<rect x="962" y="298" width="5" height="18" fill="#000"/>
<rect x="963" y="299" width="3" height="16" fill="#fff"/>
<rect x="972" y="289" width="1" height="27" fill="#000"/>
<rect x="970" y="299" width="5" height="4" fill="#000"/>
<rect x="980" y="286" width="1" height="31" fill="#000"/>
<rect x="978" y="286" width="5" height="16" fill="#000"/>
<rect x="979" y="287" width="3" height="14" fill="#fff"/>
<rect x="988" y="276" width="1" height="7" fill="#000"/>
<rect x="986" y="279" width="5" height="3" fill="#000"/>
<rect x="987" y="280" width="3" height="1" fill="#fff"/>
<rect x="996" y="244" width="1" height="40" fill="#000"/>
<rect x="994" y="252" width="5" height="29" fill="#000"/>
<rect x="995" y="253" width="3" height="27" fill="#fff"/>
<rect x="1004" y="254" width="1" height="17" fill="#000"/>
<rect x="1002" y="254" width="5" height="15" fill="#000"/>
<rect x="1012" y="265" width="1" height="22" fill="#000"/>
<rect x="1010" y="268" width="5" height="19" fill="#000"/>
<rect x="1020" y="284" width="1" height="19" fill="#000"/>
<rect x="1018" y="286" width="5" height="12" fill="#000"/>
<rect x="1028" y="277" width="1" height="24" fill="#000"/>
<rect x="1026" y="280" width="5" height="19" fill="#000"/>
<rect x="1027" y="281" width="3" height="17" fill="#fff"/>
<rect x="1036" y="279" width="1" height="6" fill="#000"/>
<rect x="1034" y="280" width="5" height="4" fill="#000"/>
<rect x="1035" y="281" width="3" height="2" fill="#fff"/>
<rect x="1044" y="256" width="1" height="26" fill="#000"/>
<rect x="1042" y="262" width="5" height="19" fill="#000"/>
<rect x="1043" y="263" width="3" height="17" fill="#fff"/>
<rect x="1052" y="220" width="1" height="44" fill="#000"/>
<rect x="1050" y="222" width="5" height="41" fill="#000"/>
<rect x="1051" y="223" width="3" height="39" fill="#fff"/>
<rect x="1060" y="210" width="1" height="38" fill="#000"/>
<rect x="1058" y="223" width="5" height="19" fill="#000"/>
<rect x="1068" y="218" width="1" height="25" fill="#000"/>
<rect x="1066" y="226" width="5" height="16" fill="#000"/>
<rect x="1067" y="227" width="3" height="14" fill="#fff"/>
<rect x="1076" y="203" width="1" height="29" fill="#000"/>
<rect x="1074" y="204" width="5" height="20" fill="#000"/>
<rect x="1075" y="205" width="3" height="18" fill="#fff"/>
<rect x="1084" y="194" width="1" height="9" fill="#000"/>
<rect x="1082" y="199" width="5" height="3" fill="#000"/>
<rect x="1083" y="200" width="3" height="1" fill="#fff"/>
<rect x="1092" y="199" width="1" height="36" fill="#000"/>
<rect x="1090" y="200" width="5" height="16" fill="#000"/>
<rect x="1100" y="192" width="1" height="25" fill="#000"/>
<rect x="1098" y="199" width="5" height="18" fill="#000"/>
<rect x="1099" y="200" width="3" height="16" fill="#fff"/>
<rect x="1108" y="197" width="1" height="15" fill="#000"/>
<rect x="1106" y="198" width="5" height="9" fill="#000"/>
<rect x="1116" y="195" width="1" height="17" fill="#000"/>
<rect x="1114" y="206" width="5" height="5" fill="#000"/>
<rect x="1124" y="199" width="1" height="16" fill="#000"/>
<rect x="1122" y="202" width="5" height="9" fill="#000"/>
<rect x="1123" y="203" width="3" height="7" fill="#fff"/>
<rect x="1132" y="193" width="1" height="7" fill="#000"/>
<rect x="1130" y="196" width="5" height="3" fill="#000"/>
<rect x="1140" y="198" width="1" height="40" fill="#000"/>
<rect x="1138" y="198" width="5" height="35" fill="#000"/>
<rect x="1148" y="222" width="1" height="18" fill="#000"/>
<rect x="1146" y="226" width="5" height="7" fill="#000"/>
<rect x="1147" y="227" width="3" height="5" fill="#fff"/>
<rect x="1156" y="200" width="1" height="29" fill="#000"/>
<rect x="1154" y="217" width="5" height="9" fill="#000"/>
<rect x="1155" y="218" width="3" height="7" fill="#fff"/>
<rect x="1164" y="205" width="1" height="22" fill="#000"/>
<rect x="1162" y="211" width="5" height="6" fill="#000"/>
<rect x="1163" y="212" width="3" height="4" fill="#fff"/>
<rect x="1172" y="206" width="1" height="29" fill="#000"/>
<rect x="1170" y="211" width="5" height="13" fill="#000"/>
<rect x="1180" y="213" width="1" height="9" fill="#000"/>
<rect x="1178" y="215" width="5" height="2" fill="#000"/>
<rect x="1188" y="204" width="1" height="15" fill="#000"/>
<rect x="1186" y="215" width="5" height="4" fill="#000"/>
<rect x="1196" y="205" width="1" height="18" fill="#000"/>
<rect x="1194" y="206" width="5" height="12" fill="#000"/>
<rect x="1195" y="207" width="3" height="10" fill="#fff"/>
<rect x="1204" y="203" width="1" height="12" fill="#000"/>
<rect x="1202" y="206" width="5" height="4" fill="#000"/>
<rect x="1212" y="203" width="1" height="14" fill="#000"/>
<rect x="1210" y="210" width="5" height="1" fill="#000"/>
<rect x="1220" y="202" width="1" height="13" fill="#000"/>
<rect x="1218" y="210" width="5" height="4" fill="#000"/>
<rect x="1228" y="205" width="1" height="7" fill="#000"/>
<rect x="1226" y="205" width="5" height="2" fill="#000"/>
<rect x="1236" y="201" width="1" height="49" fill="#000"/>
<rect x="1234" y="205" width="5" height="20" fill="#000"/>
<rect x="1244" y="218" width="1" height="21" fill="#000"/>
<rect x="1242" y="223" width="5" height="2" fill="#000"/>
<rect x="1252" y="211" width="1" height="25" fill="#000"/>
<rect x="1250" y="217" width="5" height="7" fill="#000"/>
<rect x="1251" y="218" width="3" height="5" fill="#fff"/>
<rect x="1260" y="211" width="1" height="12" fill="#000"/>
<rect x="1258" y="217" width="5" height="1" fill="#000"/>
<rect x="1268" y="213" width="1" height="6" fill="#000"/>
<rect x="1266" y="216" width="5" height="1" fill="#000"/>
<rect x="1276" y="214" width="1" height="4" fill="#000"/>
<rect x="1274" y="214" width="5" height="3" fill="#000"/>
<rect x="1275" y="215" width="3" height="1" fill="#fff"/>
<rect x="1284" y="194" width="1" height="24" fill="#000"/>
<rect x="1282" y="196" width="5" height="19" fill="#000"/>
<rect x="1283" y="197" width="3" height="17" fill="#fff"/>
<rect x="1292" y="141" width="1" height="55" fill="#000"/>
<rect x="1290" y="148" width="5" height="48" fill="#000"/>
<rect x="1291" y="149" width="3" height="46" fill="#fff"/>
<rect x="1300" y="147" width="1" height="21" fill="#000"/>
<rect x="1298" y="150" width="5" height="6" fill="#000"/>
<rect x="1308" y="150" width="1" height="10" fill="#000"/>
<rect x="1306" y="154" width="5" height="3" fill="#000"/>
<rect x="1307" y="155" width="3" height="1" fill="#fff"/>
<rect x="1316" y="143" width="1" height="11" fill="#000"/>
<rect x="1314" y="147" width="5" height="6" fill="#000"/>
<rect x="1315" y="148" width="3" height="4" fill="#fff"/>
<rect x="1324" y="148" width="1" height="41" fill="#000"/>
<rect x="1322" y="149" width="5" height="35" fill="#000"/>
<rect x="1332" y="172" width="1" height="23" fill="#000"/>
<rect x="1330" y="182" width="5" height="4" fill="#000"/>
<rect x="1340" y="158" width="1" height="37" fill="#000"/>
<rect x="1338" y="163" width="5" height="21" fill="#000"/>
<rect x="1339" y="164" width="3" height="19" fill="#fff"/>
<rect x="1348" y="139" width="1" height="27" fill="#000"/>
<rect x="1346" y="141" width="5" height="24" fill="#000"/>
<rect x="1347" y="142" width="3" height="22" fill="#fff"/>
<rect x="1356" y="100" width="1" height="44" fill="#000"/>
<rect x="1354" y="109" width="5" height="28" fill="#000"/>
<rect x="1355" y="110" width="3" height="26" fill="#fff"/>
<rect x="1364" y="100" width="1" height="9" fill="#000"/>
<rect x="1362" y="102" width="5" height="5" fill="#000"/>
<rect x="1372" y="102" width="1" height="22" fill="#000"/>
<rect x="1370" y="107" width="5" height="10" fill="#000"/>
<rect x="1380" y="100" width="1" height="24" fill="#000"/>
<rect x="1378" y="110" width="5" height="7" fill="#000"/>
<rect x="1379" y="111" width="3" height="5" fill="#fff"/>
<rect x="1388" y="84" width="1" height="27" fill="#000"/>
<rect x="1386" y="89" width="5" height="22" fill="#000"/>
<rect x="1387" y="90" width="3" height="20" fill="#fff"/>
<rect x="1396" y="51" width="1" height="42" fill="#000"/>
<rect x="1394" y="58" width="5" height="31" fill="#000"/>
<rect x="1395" y="59" width="3" height="29" fill="#fff"/>
<rect x="1404" y="58" width="1" height="52" fill="#000"/>
<rect x="1402" y="59" width="5" height="32" fill="#000"/>
<rect x="1412" y="94" width="1" height="15" fill="#000"/>
<rect x="1410" y="95" width="5" height="13" fill="#000"/>
<rect x="1420" y="90" width="1" height="24" fill="#000"/>
<rect x="1418" y="90" width="5" height="17" fill="#000"/>
<rect x="1419" y="91" width="3" height="15" fill="#fff"/>
<rect x="1428" y="62" width="1" height="32" fill="#000"/>
<rect x="1426" y="62" width="5" height="28" fill="#000"/>
<rect x="1427" y="63" width="3" height="26" fill="#fff"/>
<rect x="1436" y="62" width="1" height="31" fill="#000"/>
<rect x="1434" y="63" width="5" height="9" fill="#000"/>
</g>
<g shape-rendering="crispEdges">
<rect x="1390" y="77" width="91" height="6" fill="#00ff00"/>
</g>
<g shape-rendering="crispEdges">
<line x1="1229.3" y1="238.9" x2="1475.2" y2="44.8" stroke="#ff0000" stroke-width="3"/><polygon points="1484.6,37.4 1478.5,49.0 1471.9,40.7" fill="#ff0000"/>
<line x1="1245.5" y1="689.5" x2="1423.1" y2="630.1" stroke="#ff0000" stroke-width="3"/><polygon points="1434.0,626.5 1424.6,634.8 1421.5,625.5" fill="#ff0000"/>
</g>
<polygon points="1443,25 1454,25 1448.5,30.5" fill="#c0c0c0" shape-rendering="crispEdges"/>
<g shape-rendering="crispEdges">
<rect x="1317.5" y="41.5" width="61" height="18" fill="#fff" stroke="#ff0000" stroke-width="1"/>
<rect x="1287.5" y="67.5" width="73" height="24" fill="#fff" stroke="#ff0000" stroke-width="1"/>
<rect x="1277" y="79" width="10" height="1" fill="#ff0000"/>
</g>
<text x="1319.5" y="57" font-size="16px" fill="#ff0000" textLength="57" lengthAdjust="spacingAndGlyphs">28962.7</text>
<text x="1289.3" y="86.8" font-size="20.5px" fill="#ff0000" textLength="70" lengthAdjust="spacingAndGlyphs">28551.6</text>
<text x="1477.3" y="97.4" font-size="20px" fill="#00ff00" font-weight="300" style="font-family:'Liberation Serif','Noto Serif CJK SC',serif" textLength="108" lengthAdjust="spacing">多空转折点</text>
<g shape-rendering="crispEdges">
<rect x="4" y="674" width="1" height="55" fill="#c0c0c0"/>
<rect x="12" y="677" width="1" height="52" fill="#c0c0c0"/>
<rect x="20" y="683" width="1" height="46" fill="#c0c0c0"/>
<rect x="28" y="688" width="1" height="41" fill="#c0c0c0"/>
<rect x="36" y="690" width="1" height="39" fill="#c0c0c0"/>
<rect x="44" y="693" width="1" height="36" fill="#c0c0c0"/>
<rect x="52" y="699" width="1" height="30" fill="#c0c0c0"/>
<rect x="60" y="702" width="1" height="27" fill="#c0c0c0"/>
<rect x="68" y="706" width="1" height="23" fill="#c0c0c0"/>
<rect x="76" y="708" width="1" height="21" fill="#c0c0c0"/>
<rect x="84" y="703" width="1" height="26" fill="#c0c0c0"/>
<rect x="92" y="703" width="1" height="26" fill="#c0c0c0"/>
<rect x="100" y="703" width="1" height="26" fill="#c0c0c0"/>
<rect x="108" y="702" width="1" height="27" fill="#c0c0c0"/>
<rect x="116" y="701" width="1" height="28" fill="#c0c0c0"/>
<rect x="124" y="700" width="1" height="29" fill="#c0c0c0"/>
<rect x="132" y="700" width="1" height="29" fill="#c0c0c0"/>
<rect x="140" y="697" width="1" height="32" fill="#c0c0c0"/>
<rect x="148" y="693" width="1" height="36" fill="#c0c0c0"/>
<rect x="156" y="693" width="1" height="36" fill="#c0c0c0"/>
<rect x="164" y="694" width="1" height="35" fill="#c0c0c0"/>
<rect x="172" y="695" width="1" height="34" fill="#c0c0c0"/>
<rect x="180" y="695" width="1" height="34" fill="#c0c0c0"/>
<rect x="188" y="696" width="1" height="33" fill="#c0c0c0"/>
<rect x="196" y="698" width="1" height="31" fill="#c0c0c0"/>
<rect x="204" y="702" width="1" height="27" fill="#c0c0c0"/>
<rect x="212" y="709" width="1" height="20" fill="#c0c0c0"/>
<rect x="220" y="713" width="1" height="16" fill="#c0c0c0"/>
<rect x="228" y="713" width="1" height="16" fill="#c0c0c0"/>
<rect x="236" y="715" width="1" height="14" fill="#c0c0c0"/>
<rect x="244" y="718" width="1" height="11" fill="#c0c0c0"/>
<rect x="252" y="724" width="1" height="5" fill="#c0c0c0"/>
<rect x="260" y="728" width="1" height="5" fill="#c0c0c0"/>
<rect x="268" y="728" width="1" height="13" fill="#c0c0c0"/>
<rect x="276" y="728" width="1" height="12" fill="#c0c0c0"/>
<rect x="284" y="728" width="1" height="9" fill="#c0c0c0"/>
<rect x="292" y="728" width="1" height="7" fill="#c0c0c0"/>
<rect x="300" y="728" width="1" height="7" fill="#c0c0c0"/>
<rect x="308" y="728" width="1" height="4" fill="#c0c0c0"/>
<rect x="316" y="728" width="1" height="4" fill="#c0c0c0"/>
<rect x="324" y="728" width="1" height="2" fill="#c0c0c0"/>
<rect x="332" y="726" width="1" height="3" fill="#c0c0c0"/>
<rect x="340" y="714" width="1" height="15" fill="#c0c0c0"/>
<rect x="348" y="704" width="1" height="25" fill="#c0c0c0"/>
<rect x="356" y="698" width="1" height="31" fill="#c0c0c0"/>
<rect x="364" y="694" width="1" height="35" fill="#c0c0c0"/>
<rect x="372" y="692" width="1" height="37" fill="#c0c0c0"/>
<rect x="380" y="693" width="1" height="36" fill="#c0c0c0"/>
<rect x="388" y="694" width="1" height="35" fill="#c0c0c0"/>
<rect x="396" y="694" width="1" height="35" fill="#c0c0c0"/>
<rect x="404" y="698" width="1" height="31" fill="#c0c0c0"/>
<rect x="412" y="700" width="1" height="29" fill="#c0c0c0"/>
<rect x="420" y="696" width="1" height="33" fill="#c0c0c0"/>
<rect x="428" y="694" width="1" height="35" fill="#c0c0c0"/>
<rect x="436" y="692" width="1" height="37" fill="#c0c0c0"/>
<rect x="444" y="691" width="1" height="38" fill="#c0c0c0"/>
<rect x="452" y="696" width="1" height="33" fill="#c0c0c0"/>
<rect x="460" y="697" width="1" height="32" fill="#c0c0c0"/>
<rect x="468" y="699" width="1" height="30" fill="#c0c0c0"/>
<rect x="476" y="698" width="1" height="31" fill="#c0c0c0"/>
<rect x="484" y="693" width="1" height="36" fill="#c0c0c0"/>
<rect x="492" y="697" width="1" height="32" fill="#c0c0c0"/>
<rect x="500" y="700" width="1" height="29" fill="#c0c0c0"/>
<rect x="508" y="702" width="1" height="27" fill="#c0c0c0"/>
<rect x="516" y="703" width="1" height="26" fill="#c0c0c0"/>
<rect x="524" y="712" width="1" height="17" fill="#c0c0c0"/>
<rect x="532" y="714" width="1" height="15" fill="#c0c0c0"/>
<rect x="540" y="716" width="1" height="13" fill="#c0c0c0"/>
<rect x="548" y="716" width="1" height="13" fill="#c0c0c0"/>
<rect x="556" y="713" width="1" height="16" fill="#c0c0c0"/>
<rect x="564" y="711" width="1" height="18" fill="#c0c0c0"/>
<rect x="572" y="711" width="1" height="18" fill="#c0c0c0"/>
<rect x="580" y="712" width="1" height="17" fill="#c0c0c0"/>
<rect x="588" y="713" width="1" height="16" fill="#c0c0c0"/>
<rect x="596" y="715" width="1" height="14" fill="#c0c0c0"/>
<rect x="604" y="718" width="1" height="11" fill="#c0c0c0"/>
<rect x="612" y="725" width="1" height="4" fill="#c0c0c0"/>
<rect x="620" y="726" width="1" height="3" fill="#c0c0c0"/>
<rect x="628" y="727" width="1" height="2" fill="#c0c0c0"/>
<rect x="636" y="728" width="1" height="1" fill="#c0c0c0"/>
<rect x="644" y="727" width="1" height="2" fill="#c0c0c0"/>
<rect x="652" y="725" width="1" height="4" fill="#c0c0c0"/>
<rect x="660" y="720" width="1" height="9" fill="#c0c0c0"/>
<rect x="668" y="716" width="1" height="13" fill="#c0c0c0"/>
<rect x="676" y="715" width="1" height="14" fill="#c0c0c0"/>
<rect x="684" y="715" width="1" height="14" fill="#c0c0c0"/>
<rect x="692" y="717" width="1" height="12" fill="#c0c0c0"/>
<rect x="700" y="717" width="1" height="12" fill="#c0c0c0"/>
<rect x="708" y="716" width="1" height="13" fill="#c0c0c0"/>
<rect x="716" y="716" width="1" height="13" fill="#c0c0c0"/>
<rect x="724" y="715" width="1" height="14" fill="#c0c0c0"/>
<rect x="732" y="708" width="1" height="21" fill="#c0c0c0"/>
<rect x="740" y="706" width="1" height="23" fill="#c0c0c0"/>
<rect x="748" y="705" width="1" height="24" fill="#c0c0c0"/>
<rect x="756" y="703" width="1" height="26" fill="#c0c0c0"/>
<rect x="764" y="704" width="1" height="25" fill="#c0c0c0"/>
<rect x="772" y="704" width="1" height="25" fill="#c0c0c0"/>
<rect x="780" y="706" width="1" height="23" fill="#c0c0c0"/>
<rect x="788" y="707" width="1" height="22" fill="#c0c0c0"/>
<rect x="796" y="708" width="1" height="21" fill="#c0c0c0"/>
<rect x="804" y="708" width="1" height="21" fill="#c0c0c0"/>
<rect x="812" y="708" width="1" height="21" fill="#c0c0c0"/>
<rect x="820" y="709" width="1" height="20" fill="#c0c0c0"/>
<rect x="828" y="710" width="1" height="19" fill="#c0c0c0"/>
<rect x="836" y="711" width="1" height="18" fill="#c0c0c0"/>
<rect x="844" y="713" width="1" height="16" fill="#c0c0c0"/>
<rect x="852" y="716" width="1" height="13" fill="#c0c0c0"/>
<rect x="860" y="719" width="1" height="10" fill="#c0c0c0"/>
<rect x="868" y="726" width="1" height="3" fill="#c0c0c0"/>
<rect x="876" y="728" width="1" height="1" fill="#c0c0c0"/>
<rect x="884" y="728" width="1" height="4" fill="#c0c0c0"/>
<rect x="892" y="728" width="1" height="8" fill="#c0c0c0"/>
<rect x="900" y="728" width="1" height="5" fill="#c0c0c0"/>
<rect x="908" y="725" width="1" height="4" fill="#c0c0c0"/>
<rect x="916" y="718" width="1" height="11" fill="#c0c0c0"/>
<rect x="924" y="708" width="1" height="21" fill="#c0c0c0"/>
<rect x="932" y="697" width="1" height="32" fill="#c0c0c0"/>
<rect x="940" y="685" width="1" height="44" fill="#c0c0c0"/>
<rect x="948" y="665" width="1" height="64" fill="#c0c0c0"/>
<rect x="956" y="651" width="1" height="78" fill="#c0c0c0"/>
<rect x="964" y="637" width="1" height="92" fill="#c0c0c0"/>
<rect x="972" y="628" width="1" height="101" fill="#c0c0c0"/>
<rect x="980" y="618" width="1" height="111" fill="#c0c0c0"/>
<rect x="988" y="610" width="1" height="119" fill="#c0c0c0"/>
<rect x="996" y="599" width="1" height="130" fill="#c0c0c0"/>
<rect x="1004" y="595" width="1" height="134" fill="#c0c0c0"/>
<rect x="1012" y="598" width="1" height="131" fill="#c0c0c0"/>
<rect x="1020" y="604" width="1" height="125" fill="#c0c0c0"/>
<rect x="1028" y="607" width="1" height="122" fill="#c0c0c0"/>
<rect x="1036" y="610" width="1" height="119" fill="#c0c0c0"/>
<rect x="1044" y="610" width="1" height="119" fill="#c0c0c0"/>
<rect x="1052" y="602" width="1" height="127" fill="#c0c0c0"/>
<rect x="1060" y="601" width="1" height="128" fill="#c0c0c0"/>
<rect x="1068" y="599" width="1" height="130" fill="#c0c0c0"/>
<rect x="1076" y="593" width="1" height="136" fill="#c0c0c0"/>
<rect x="1084" y="589" width="1" height="140" fill="#c0c0c0"/>
<rect x="1092" y="591" width="1" height="138" fill="#c0c0c0"/>
<rect x="1100" y="591" width="1" height="138" fill="#c0c0c0"/>
<rect x="1108" y="594" width="1" height="135" fill="#c0c0c0"/>
<rect x="1116" y="598" width="1" height="131" fill="#c0c0c0"/>
<rect x="1124" y="602" width="1" height="127" fill="#c0c0c0"/>
<rect x="1132" y="605" width="1" height="124" fill="#c0c0c0"/>
<rect x="1140" y="617" width="1" height="112" fill="#c0c0c0"/>
<rect x="1148" y="626" width="1" height="103" fill="#c0c0c0"/>
<rect x="1156" y="632" width="1" height="97" fill="#c0c0c0"/>
<rect x="1164" y="636" width="1" height="93" fill="#c0c0c0"/>
<rect x="1172" y="644" width="1" height="85" fill="#c0c0c0"/>
<rect x="1180" y="649" width="1" height="80" fill="#c0c0c0"/>
<rect x="1188" y="654" width="1" height="75" fill="#c0c0c0"/>
<rect x="1196" y="657" width="1" height="72" fill="#c0c0c0"/>
<rect x="1204" y="660" width="1" height="69" fill="#c0c0c0"/>
<rect x="1212" y="664" width="1" height="65" fill="#c0c0c0"/>
<rect x="1220" y="668" width="1" height="61" fill="#c0c0c0"/>
<rect x="1228" y="670" width="1" height="59" fill="#c0c0c0"/>
<rect x="1236" y="677" width="1" height="52" fill="#c0c0c0"/>
<rect x="1244" y="683" width="1" height="46" fill="#c0c0c0"/>
<rect x="1252" y="688" width="1" height="41" fill="#c0c0c0"/>
<rect x="1260" y="690" width="1" height="39" fill="#c0c0c0"/>
<rect x="1268" y="692" width="1" height="37" fill="#c0c0c0"/>
<rect x="1276" y="694" width="1" height="35" fill="#c0c0c0"/>
<rect x="1284" y="692" width="1" height="37" fill="#c0c0c0"/>
<rect x="1292" y="680" width="1" height="49" fill="#c0c0c0"/>
<rect x="1300" y="673" width="1" height="56" fill="#c0c0c0"/>
<rect x="1308" y="670" width="1" height="59" fill="#c0c0c0"/>
<rect x="1316" y="662" width="1" height="67" fill="#c0c0c0"/>
<rect x="1324" y="667" width="1" height="62" fill="#c0c0c0"/>
<rect x="1332" y="672" width="1" height="57" fill="#c0c0c0"/>
<rect x="1340" y="671" width="1" height="58" fill="#c0c0c0"/>
<rect x="1348" y="667" width="1" height="62" fill="#c0c0c0"/>
<rect x="1356" y="656" width="1" height="73" fill="#c0c0c0"/>
<rect x="1364" y="651" width="1" height="78" fill="#c0c0c0"/>
<rect x="1372" y="649" width="1" height="80" fill="#c0c0c0"/>
<rect x="1380" y="646" width="1" height="83" fill="#c0c0c0"/>
<rect x="1388" y="636" width="1" height="93" fill="#c0c0c0"/>
<rect x="1396" y="625" width="1" height="104" fill="#c0c0c0"/>
<rect x="1404" y="625" width="1" height="104" fill="#c0c0c0"/>
<rect x="1412" y="630" width="1" height="99" fill="#c0c0c0"/>
<rect x="1420" y="631" width="1" height="98" fill="#c0c0c0"/>
<rect x="1428" y="628" width="1" height="101" fill="#c0c0c0"/>
<rect x="1436" y="626" width="1" height="103" fill="#c0c0c0"/>
</g>
<path d="M1113 594h1v1h-1zM1117 594h3v1h-3zM1123 594h3v1h-3zM1107 595h1v1h-1zM1111 595h2v1h-2zM1129 595h3v1h-3zM1105 596h2v1h-2zM1135 596h3v1h-3zM1099 597h3v1h-3zM1141 597h1v1h-1zM1095 598h1v1h-1zM1142 598h2v1h-2zM1093 599h2v1h-2zM1087 600h3v1h-3zM1147 600h1v1h-1zM1081 601h3v1h-3zM1148 601h2v1h-2zM1057 602h3v1h-3zM1063 602h3v1h-3zM1069 602h3v1h-3zM1075 602h3v1h-3zM1051 603h3v1h-3zM1153 603h1v1h-1zM1047 604h1v1h-1zM1154 604h2v1h-2zM1045 605h2v1h-2zM1039 606h3v1h-3zM1159 606h1v1h-1zM1035 607h1v1h-1zM1160 607h2v1h-2zM1033 608h2v1h-2zM1028 610h2v1h-2zM1165 610h1v1h-1zM1027 611h1v1h-1zM1166 611h1v1h-1zM1167 612h1v1h-1zM1022 613h2v1h-2zM1021 614h1v1h-1zM1171 615h1v1h-1zM1172 616h1v1h-1zM1017 617h1v1h-1zM1173 617h1v1h-1zM1015 618h2v1h-2zM1177 620h2v1h-2zM1179 621h1v1h-1zM1011 622h1v1h-1zM1010 623h1v1h-1zM1009 624h1v1h-1zM1183 624h1v1h-1zM1184 625h1v1h-1zM1185 626h1v1h-1zM1006 628h1v1h-1zM1005 629h1v1h-1zM1189 629h1v1h-1zM1004 630h1v1h-1zM1190 630h1v1h-1zM1191 631h1v1h-1zM1435 631h2v1h-2zM1429 632h3v1h-3zM1425 633h1v1h-1zM1001 634h1v1h-1zM1195 634h1v1h-1zM1423 634h2v1h-2zM1001 635h1v1h-1zM1196 635h1v1h-1zM1000 636h1v1h-1zM1197 636h1v1h-1zM1418 636h2v1h-2zM1417 637h1v1h-1zM1201 639h2v1h-2zM1413 639h1v1h-1zM997 640h1v1h-1zM1203 640h1v1h-1zM1412 640h1v1h-1zM997 641h1v1h-1zM1411 641h1v1h-1zM996 642h1v1h-1zM1207 643h2v1h-2zM1209 644h1v1h-1zM1407 644h1v1h-1zM1405 645h2v1h-2zM993 646h1v1h-1zM1213 646h1v1h-1zM993 647h1v1h-1zM1214 647h2v1h-2zM992 648h1v1h-1zM1400 648h2v1h-2zM1219 649h1v1h-1zM1399 649h1v1h-1zM1220 650h1v1h-1zM1221 651h1v1h-1zM1394 651h2v1h-2zM989 652h1v1h-1zM1393 652h1v1h-1zM2 653h2v1h-2zM989 653h1v1h-1zM1225 653h1v1h-1zM4 654h1v1h-1zM988 654h1v1h-1zM1226 654h2v1h-2zM1388 654h2v1h-2zM1387 655h1v1h-1zM8 656h1v1h-1zM1231 656h1v1h-1zM9 657h1v1h-1zM1232 657h2v1h-2zM1382 657h2v1h-2zM10 658h1v1h-1zM985 658h1v1h-1zM1381 658h1v1h-1zM984 659h1v1h-1zM1237 659h1v1h-1zM1377 659h1v1h-1zM14 660h2v1h-2zM984 660h1v1h-1zM1238 660h2v1h-2zM1375 660h2v1h-2zM16 661h1v1h-1zM1371 661h1v1h-1zM1243 662h1v1h-1zM1369 662h2v1h-2zM20 663h2v1h-2zM1244 663h1v1h-1zM22 664h1v1h-1zM981 664h1v1h-1zM1245 664h1v1h-1zM1363 664h3v1h-3zM980 665h1v1h-1zM26 666h2v1h-2zM979 666h1v1h-1zM1249 666h1v1h-1zM1358 666h2v1h-2zM28 667h1v1h-1zM1250 667h2v1h-2zM1357 667h1v1h-1zM32 669h1v1h-1zM1255 669h1v1h-1zM1352 669h2v1h-2zM33 670h1v1h-1zM977 670h1v1h-1zM1256 670h2v1h-2zM1351 670h1v1h-1zM34 671h1v1h-1zM976 671h1v1h-1zM1347 671h1v1h-1zM976 672h1v1h-1zM1261 672h1v1h-1zM1345 672h2v1h-2zM38 673h2v1h-2zM1262 673h2v1h-2zM40 674h1v1h-1zM1339 674h3v1h-3zM1267 675h1v1h-1zM44 676h2v1h-2zM973 676h1v1h-1zM1268 676h2v1h-2zM1334 676h2v1h-2zM46 677h1v1h-1zM973 677h1v1h-1zM1333 677h1v1h-1zM972 678h1v1h-1zM1273 678h2v1h-2zM1327 678h3v1h-3zM50 679h2v1h-2zM1275 679h1v1h-1zM1323 679h1v1h-1zM52 680h1v1h-1zM1279 680h1v1h-1zM1321 680h2v1h-2zM1280 681h2v1h-2zM1315 681h3v1h-3zM56 682h1v1h-1zM969 682h1v1h-1zM1309 682h3v1h-3zM57 683h1v1h-1zM969 683h1v1h-1zM1285 683h3v1h-3zM1303 683h3v1h-3zM58 684h1v1h-1zM968 684h1v1h-1zM1291 684h3v1h-3zM1297 684h3v1h-3zM62 686h2v1h-2zM64 687h1v1h-1zM965 688h1v1h-1zM68 689h2v1h-2zM965 689h1v1h-1zM70 690h1v1h-1zM964 690h1v1h-1zM74 692h2v1h-2zM76 693h1v1h-1zM441 693h2v1h-2zM446 693h3v1h-3zM80 694h1v1h-1zM417 694h2v1h-2zM422 694h3v1h-3zM428 694h3v1h-3zM434 694h3v1h-3zM440 694h1v1h-1zM452 694h3v1h-3zM458 694h3v1h-3zM464 694h1v1h-1zM482 694h3v1h-3zM488 694h3v1h-3zM494 694h3v1h-3zM961 694h1v1h-1zM81 695h2v1h-2zM177 695h2v1h-2zM182 695h3v1h-3zM188 695h3v1h-3zM194 695h3v1h-3zM200 695h3v1h-3zM206 695h3v1h-3zM411 695h2v1h-2zM416 695h1v1h-1zM465 695h2v1h-2zM470 695h3v1h-3zM476 695h3v1h-3zM500 695h3v1h-3zM960 695h1v1h-1zM86 696h1v1h-1zM170 696h3v1h-3zM176 696h1v1h-1zM212 696h3v1h-3zM410 696h1v1h-1zM506 696h3v1h-3zM512 696h1v1h-1zM960 696h1v1h-1zM87 697h2v1h-2zM164 697h3v1h-3zM218 697h1v1h-1zM404 697h3v1h-3zM513 697h2v1h-2zM518 697h1v1h-1zM92 698h3v1h-3zM153 698h2v1h-2zM158 698h3v1h-3zM219 698h2v1h-2zM519 698h2v1h-2zM98 699h1v1h-1zM147 699h2v1h-2zM152 699h1v1h-1zM224 699h1v1h-1zM398 699h3v1h-3zM524 699h3v1h-3zM99 700h2v1h-2zM104 700h1v1h-1zM146 700h1v1h-1zM225 700h2v1h-2zM530 700h1v1h-1zM957 700h1v1h-1zM105 701h2v1h-2zM110 701h3v1h-3zM140 701h3v1h-3zM230 701h1v1h-1zM394 701h1v1h-1zM531 701h2v1h-2zM956 701h1v1h-1zM116 702h3v1h-3zM122 702h3v1h-3zM128 702h3v1h-3zM134 702h3v1h-3zM231 702h2v1h-2zM392 702h2v1h-2zM536 702h3v1h-3zM955 702h1v1h-1zM236 703h3v1h-3zM542 703h1v1h-1zM242 704h1v1h-1zM388 704h1v1h-1zM543 704h2v1h-2zM243 705h2v1h-2zM386 705h2v1h-2zM548 705h3v1h-3zM788 705h3v1h-3zM794 705h3v1h-3zM800 705h3v1h-3zM806 705h3v1h-3zM812 705h3v1h-3zM818 705h3v1h-3zM824 705h1v1h-1zM554 706h1v1h-1zM777 706h2v1h-2zM782 706h3v1h-3zM825 706h2v1h-2zM830 706h3v1h-3zM952 706h1v1h-1zM248 707h2v1h-2zM382 707h1v1h-1zM555 707h2v1h-2zM560 707h1v1h-1zM771 707h2v1h-2zM776 707h1v1h-1zM836 707h3v1h-3zM951 707h1v1h-1zM250 708h1v1h-1zM380 708h2v1h-2zM561 708h2v1h-2zM566 708h1v1h-1zM770 708h1v1h-1zM842 708h3v1h-3zM848 708h1v1h-1zM950 708h1v1h-1zM567 709h2v1h-2zM764 709h3v1h-3zM849 709h2v1h-2zM854 709h3v1h-3zM254 710h2v1h-2zM572 710h3v1h-3zM758 710h3v1h-3zM860 710h3v1h-3zM256 711h1v1h-1zM375 711h2v1h-2zM578 711h3v1h-3zM584 711h1v1h-1zM752 711h3v1h-3zM866 711h1v1h-1zM374 712h1v1h-1zM585 712h2v1h-2zM590 712h3v1h-3zM596 712h3v1h-3zM746 712h3v1h-3zM867 712h2v1h-2zM946 712h1v1h-1zM260 713h2v1h-2zM602 713h3v1h-3zM608 713h1v1h-1zM740 713h3v1h-3zM872 713h1v1h-1zM945 713h1v1h-1zM262 714h1v1h-1zM370 714h1v1h-1zM609 714h2v1h-2zM614 714h3v1h-3zM620 714h3v1h-3zM729 714h2v1h-2zM734 714h3v1h-3zM873 714h2v1h-2zM944 714h1v1h-1zM369 715h1v1h-1zM626 715h1v1h-1zM722 715h3v1h-3zM728 715h1v1h-1zM878 715h1v1h-1zM266 716h2v1h-2zM368 716h1v1h-1zM627 716h2v1h-2zM716 716h3v1h-3zM879 716h2v1h-2zM268 717h1v1h-1zM632 717h3v1h-3zM711 717h2v1h-2zM884 717h2v1h-2zM940 717h1v1h-1zM364 718h1v1h-1zM638 718h1v1h-1zM705 718h2v1h-2zM710 718h1v1h-1zM886 718h1v1h-1zM938 718h2v1h-2zM272 719h1v1h-1zM362 719h2v1h-2zM639 719h2v1h-2zM698 719h3v1h-3zM704 719h1v1h-1zM273 720h1v1h-1zM644 720h3v1h-3zM692 720h3v1h-3zM890 720h2v1h-2zM274 721h1v1h-1zM650 721h3v1h-3zM656 721h1v1h-1zM681 721h2v1h-2zM686 721h3v1h-3zM892 721h1v1h-1zM933 721h2v1h-2zM357 722h2v1h-2zM657 722h2v1h-2zM662 722h3v1h-3zM668 722h3v1h-3zM674 722h3v1h-3zM680 722h1v1h-1zM896 722h3v1h-3zM932 722h1v1h-1zM278 723h3v1h-3zM356 723h1v1h-1zM902 723h1v1h-1zM903 724h2v1h-2zM926 724h3v1h-3zM284 725h2v1h-2zM352 725h1v1h-1zM908 725h3v1h-3zM914 725h3v1h-3zM920 725h3v1h-3zM286 726h1v1h-1zM350 726h2v1h-2zM290 727h1v1h-1zM291 728h2v1h-2zM346 728h1v1h-1zM296 729h1v1h-1zM344 729h2v1h-2zM297 730h2v1h-2zM302 731h1v1h-1zM339 731h2v1h-2zM303 732h2v1h-2zM338 732h1v1h-1zM308 733h3v1h-3zM334 733h1v1h-1zM314 734h3v1h-3zM320 734h1v1h-1zM332 734h2v1h-2zM321 735h2v1h-2zM326 735h3v1h-3z" fill="#ff0000" shape-rendering="crispEdges"/>
<g shape-rendering="crispEdges">
<line x1="3" y1="787.5" x2="1686" y2="787.5" stroke="#c0c0c0" stroke-width="1" stroke-dasharray="3,3"/>
<line x1="3" y1="838.5" x2="1686" y2="838.5" stroke="#c0c0c0" stroke-width="1" stroke-dasharray="3,3"/>
<line x1="3" y1="899.5" x2="1686" y2="899.5" stroke="#c0c0c0" stroke-width="1" stroke-dasharray="3,3"/>
</g>
<path d="M894 851h1v4h-1zM1317 801h1v4h-1zM1323 821h1v4h-1zM898 838h1v4h-1zM1320 811h1v4h-1zM271 852h1v3h-1zM450 831h1v3h-1zM1318 805h1v3h-1zM270 855h1v3h-1zM1290 800h1v3h-1zM1134 807h1v3h-1zM1137 815h1v3h-1zM490 829h1v3h-1zM1322 818h1v3h-1zM485 815h1v3h-1zM489 826h1v3h-1zM893 855h1v3h-1zM446 821h1v3h-1zM1402 805h1v3h-1zM1319 808h1v3h-1zM273 847h1v3h-1zM899 835h1v3h-1zM896 845h1v3h-1zM1138 818h1v3h-1zM1286 810h1v3h-1zM1398 795h1v3h-1zM895 848h1v3h-1zM274 844h1v3h-1zM487 821h1v3h-1zM1321 815h1v3h-1zM1135 810h1v3h-1zM491 832h1v3h-1zM1400 800h1v3h-1zM486 818h1v3h-1zM448 826h1v3h-1zM897 842h1v3h-1zM1288 805h1v3h-1zM996 777h1v1h-1zM994 778h2v1h-2zM997 778h1v1h-1zM993 779h1v1h-1zM997 779h1v1h-1zM991 780h2v1h-2zM998 780h1v1h-1zM989 781h2v1h-2zM998 781h1v1h-1zM985 782h4v1h-4zM999 782h1v1h-1zM948 783h2v1h-2zM963 783h3v1h-3zM979 783h6v1h-6zM1000 783h1v1h-1zM947 784h1v1h-1zM950 784h3v1h-3zM961 784h2v1h-2zM966 784h3v1h-3zM977 784h2v1h-2zM1000 784h1v1h-1zM947 785h1v1h-1zM953 785h2v1h-2zM958 785h3v1h-3zM969 785h2v1h-2zM974 785h3v1h-3zM1001 785h1v1h-1zM946 786h1v1h-1zM955 786h3v1h-3zM971 786h3v1h-3zM1002 786h1v1h-1zM945 787h1v1h-1zM1002 787h1v1h-1zM945 788h1v1h-1zM1003 788h1v1h-1zM944 789h1v1h-1zM1003 789h1v1h-1zM943 790h1v1h-1zM1004 790h1v1h-1zM943 791h1v1h-1zM1005 791h1v1h-1zM1052 791h1v1h-1zM1396 791h1v1h-1zM942 792h1v1h-1zM1005 792h1v1h-1zM1051 792h1v1h-1zM1053 792h1v1h-1zM1395 792h2v1h-2zM941 793h1v1h-1zM1006 793h1v1h-1zM1050 793h1v1h-1zM1053 793h1v1h-1zM1394 793h1v1h-1zM1397 793h1v1h-1zM941 794h1v1h-1zM1006 794h1v1h-1zM1049 794h1v1h-1zM1054 794h1v1h-1zM1076 794h9v1h-9zM1393 794h1v1h-1zM1397 794h1v1h-1zM939 795h2v1h-2zM1007 795h1v1h-1zM1048 795h1v1h-1zM1055 795h1v1h-1zM1074 795h2v1h-2zM1085 795h1v1h-1zM1391 795h2v1h-2zM937 796h2v1h-2zM1008 796h1v1h-1zM1048 796h1v1h-1zM1055 796h1v1h-1zM1073 796h1v1h-1zM1086 796h1v1h-1zM1292 796h1v1h-1zM1390 796h1v1h-1zM934 797h3v1h-3zM1008 797h1v1h-1zM1047 797h1v1h-1zM1056 797h1v1h-1zM1071 797h2v1h-2zM1087 797h1v1h-1zM1292 797h3v1h-3zM1389 797h1v1h-1zM932 798h2v1h-2zM1009 798h1v1h-1zM1046 798h1v1h-1zM1057 798h1v1h-1zM1069 798h2v1h-2zM1088 798h1v1h-1zM1291 798h1v1h-1zM1295 798h1v1h-1zM1388 798h1v1h-1zM1399 798h1v1h-1zM931 799h1v1h-1zM1010 799h1v1h-1zM1045 799h1v1h-1zM1057 799h1v1h-1zM1068 799h1v1h-1zM1088 799h1v1h-1zM1100 799h1v1h-1zM1291 799h1v1h-1zM1296 799h1v1h-1zM1315 799h2v1h-2zM1361 799h4v1h-4zM1387 799h1v1h-1zM1399 799h1v1h-1zM929 800h2v1h-2zM1010 800h1v1h-1zM1044 800h1v1h-1zM1058 800h1v1h-1zM1066 800h2v1h-2zM1089 800h1v1h-1zM1098 800h2v1h-2zM1101 800h2v1h-2zM1297 800h2v1h-2zM1311 800h4v1h-4zM1316 800h1v1h-1zM1356 800h5v1h-5zM1365 800h1v1h-1zM1385 800h2v1h-2zM928 801h1v1h-1zM1011 801h1v1h-1zM1042 801h2v1h-2zM1059 801h1v1h-1zM1064 801h2v1h-2zM1090 801h1v1h-1zM1096 801h2v1h-2zM1103 801h2v1h-2zM1299 801h1v1h-1zM1305 801h6v1h-6zM1355 801h1v1h-1zM1366 801h1v1h-1zM1384 801h1v1h-1zM927 802h1v1h-1zM1011 802h1v1h-1zM1041 802h1v1h-1zM1059 802h1v1h-1zM1062 802h2v1h-2zM1091 802h1v1h-1zM1094 802h2v1h-2zM1105 802h1v1h-1zM1300 802h5v1h-5zM1354 802h1v1h-1zM1367 802h2v1h-2zM1383 802h1v1h-1zM925 803h2v1h-2zM1012 803h1v1h-1zM1039 803h2v1h-2zM1060 803h2v1h-2zM1092 803h2v1h-2zM1106 803h2v1h-2zM1131 803h2v1h-2zM1289 803h1v1h-1zM1353 803h1v1h-1zM1369 803h1v1h-1zM1381 803h2v1h-2zM1401 803h1v1h-1zM924 804h1v1h-1zM1013 804h1v1h-1zM1037 804h2v1h-2zM1108 804h2v1h-2zM1127 804h4v1h-4zM1132 804h1v1h-1zM1289 804h1v1h-1zM1352 804h1v1h-1zM1370 804h1v1h-1zM1379 804h2v1h-2zM1401 804h1v1h-1zM347 805h2v1h-2zM923 805h1v1h-1zM1014 805h1v1h-1zM1028 805h9v1h-9zM1110 805h3v1h-3zM1123 805h4v1h-4zM1133 805h1v1h-1zM1352 805h1v1h-1zM1371 805h1v1h-1zM1375 805h4v1h-4zM345 806h2v1h-2zM349 806h1v1h-1zM922 806h1v1h-1zM1015 806h2v1h-2zM1026 806h2v1h-2zM1113 806h2v1h-2zM1119 806h4v1h-4zM1133 806h1v1h-1zM1351 806h1v1h-1zM1372 806h3v1h-3zM342 807h3v1h-3zM350 807h1v1h-1zM921 807h1v1h-1zM1017 807h1v1h-1zM1025 807h1v1h-1zM1115 807h4v1h-4zM1350 807h1v1h-1zM1428 807h2v1h-2zM340 808h2v1h-2zM350 808h1v1h-1zM920 808h1v1h-1zM1018 808h1v1h-1zM1023 808h2v1h-2zM1287 808h1v1h-1zM1349 808h1v1h-1zM1403 808h1v1h-1zM1427 808h1v1h-1zM1430 808h2v1h-2zM339 809h1v1h-1zM351 809h1v1h-1zM920 809h1v1h-1zM1019 809h1v1h-1zM1021 809h2v1h-2zM1287 809h1v1h-1zM1348 809h1v1h-1zM1403 809h1v1h-1zM1426 809h1v1h-1zM1432 809h2v1h-2zM339 810h1v1h-1zM352 810h1v1h-1zM919 810h1v1h-1zM1020 810h1v1h-1zM1347 810h1v1h-1zM1404 810h1v1h-1zM1425 810h1v1h-1zM1434 810h2v1h-2zM338 811h1v1h-1zM353 811h1v1h-1zM918 811h1v1h-1zM1346 811h1v1h-1zM1404 811h1v1h-1zM1423 811h2v1h-2zM1436 811h1v1h-1zM338 812h1v1h-1zM354 812h1v1h-1zM917 812h1v1h-1zM1345 812h1v1h-1zM1405 812h1v1h-1zM1422 812h1v1h-1zM337 813h1v1h-1zM354 813h1v1h-1zM363 813h2v1h-2zM435 813h3v1h-3zM484 813h1v1h-1zM916 813h1v1h-1zM1136 813h1v1h-1zM1285 813h1v1h-1zM1344 813h1v1h-1zM1406 813h1v1h-1zM1421 813h1v1h-1zM337 814h1v1h-1zM355 814h1v1h-1zM359 814h4v1h-4zM365 814h2v1h-2zM431 814h4v1h-4zM438 814h2v1h-2zM483 814h2v1h-2zM914 814h2v1h-2zM1136 814h1v1h-1zM1285 814h1v1h-1zM1344 814h1v1h-1zM1407 814h1v1h-1zM1420 814h1v1h-1zM147 815h2v1h-2zM336 815h1v1h-1zM356 815h3v1h-3zM367 815h2v1h-2zM420 815h11v1h-11zM440 815h2v1h-2zM482 815h1v1h-1zM732 815h1v1h-1zM913 815h1v1h-1zM1284 815h1v1h-1zM1343 815h1v1h-1zM1408 815h1v1h-1zM1418 815h2v1h-2zM145 816h2v1h-2zM149 816h2v1h-2zM336 816h1v1h-1zM369 816h1v1h-1zM419 816h1v1h-1zM442 816h2v1h-2zM482 816h1v1h-1zM731 816h1v1h-1zM733 816h1v1h-1zM911 816h2v1h-2zM1163 816h2v1h-2zM1284 816h1v1h-1zM1342 816h1v1h-1zM1409 816h1v1h-1zM1417 816h1v1h-1zM142 817h3v1h-3zM151 817h1v1h-1zM335 817h1v1h-1zM370 817h2v1h-2zM419 817h1v1h-1zM444 817h1v1h-1zM481 817h1v1h-1zM730 817h1v1h-1zM734 817h1v1h-1zM909 817h2v1h-2zM1159 817h4v1h-4zM1165 817h1v1h-1zM1196 817h3v1h-3zM1283 817h1v1h-1zM1341 817h1v1h-1zM1410 817h1v1h-1zM1415 817h2v1h-2zM140 818h2v1h-2zM152 818h1v1h-1zM335 818h1v1h-1zM372 818h1v1h-1zM418 818h1v1h-1zM444 818h1v1h-1zM480 818h1v1h-1zM729 818h1v1h-1zM735 818h1v1h-1zM908 818h1v1h-1zM1156 818h3v1h-3zM1166 818h1v1h-1zM1194 818h2v1h-2zM1199 818h4v1h-4zM1228 818h1v1h-1zM1282 818h1v1h-1zM1340 818h1v1h-1zM1411 818h1v1h-1zM1413 818h2v1h-2zM139 819h1v1h-1zM153 819h2v1h-2zM334 819h1v1h-1zM373 819h2v1h-2zM418 819h1v1h-1zM445 819h1v1h-1zM479 819h1v1h-1zM728 819h1v1h-1zM736 819h1v1h-1zM907 819h1v1h-1zM1154 819h2v1h-2zM1167 819h2v1h-2zM1193 819h1v1h-1zM1203 819h6v1h-6zM1226 819h2v1h-2zM1229 819h1v1h-1zM1282 819h1v1h-1zM1339 819h1v1h-1zM1412 819h1v1h-1zM138 820h1v1h-1zM155 820h1v1h-1zM334 820h1v1h-1zM375 820h1v1h-1zM417 820h1v1h-1zM445 820h1v1h-1zM478 820h1v1h-1zM728 820h1v1h-1zM736 820h1v1h-1zM907 820h1v1h-1zM1152 820h2v1h-2zM1169 820h1v1h-1zM1191 820h2v1h-2zM1209 820h6v1h-6zM1224 820h2v1h-2zM1229 820h1v1h-1zM1281 820h1v1h-1zM1338 820h1v1h-1zM137 821h1v1h-1zM156 821h1v1h-1zM333 821h1v1h-1zM376 821h1v1h-1zM417 821h1v1h-1zM478 821h1v1h-1zM667 821h2v1h-2zM727 821h1v1h-1zM737 821h1v1h-1zM755 821h2v1h-2zM906 821h1v1h-1zM1139 821h1v1h-1zM1150 821h2v1h-2zM1170 821h1v1h-1zM1179 821h6v1h-6zM1189 821h2v1h-2zM1215 821h4v1h-4zM1222 821h2v1h-2zM1230 821h1v1h-1zM1280 821h1v1h-1zM1337 821h1v1h-1zM136 822h1v1h-1zM157 822h2v1h-2zM333 822h1v1h-1zM377 822h2v1h-2zM416 822h1v1h-1zM477 822h1v1h-1zM665 822h2v1h-2zM669 822h1v1h-1zM726 822h1v1h-1zM738 822h1v1h-1zM753 822h2v1h-2zM757 822h1v1h-1zM906 822h1v1h-1zM1139 822h1v1h-1zM1147 822h3v1h-3zM1171 822h1v1h-1zM1175 822h4v1h-4zM1185 822h4v1h-4zM1219 822h3v1h-3zM1230 822h1v1h-1zM1279 822h1v1h-1zM1336 822h1v1h-1zM84 823h1v1h-1zM135 823h1v1h-1zM159 823h1v1h-1zM177 823h8v1h-8zM332 823h1v1h-1zM379 823h1v1h-1zM393 823h4v1h-4zM415 823h1v1h-1zM476 823h1v1h-1zM662 823h3v1h-3zM670 823h1v1h-1zM725 823h1v1h-1zM739 823h1v1h-1zM750 823h3v1h-3zM758 823h1v1h-1zM905 823h1v1h-1zM1140 823h1v1h-1zM1143 823h4v1h-4zM1172 823h3v1h-3zM1231 823h1v1h-1zM1278 823h1v1h-1zM1336 823h1v1h-1zM83 824h1v1h-1zM85 824h1v1h-1zM121 824h6v1h-6zM134 824h1v1h-1zM160 824h1v1h-1zM171 824h6v1h-6zM185 824h5v1h-5zM331 824h1v1h-1zM380 824h13v1h-13zM397 824h1v1h-1zM415 824h1v1h-1zM447 824h1v1h-1zM475 824h1v1h-1zM488 824h1v1h-1zM660 824h2v1h-2zM671 824h1v1h-1zM724 824h1v1h-1zM740 824h10v1h-10zM759 824h2v1h-2zM809 824h4v1h-4zM905 824h1v1h-1zM1140 824h3v1h-3zM1231 824h1v1h-1zM1278 824h1v1h-1zM1335 824h1v1h-1zM83 825h1v1h-1zM86 825h1v1h-1zM115 825h6v1h-6zM127 825h4v1h-4zM133 825h1v1h-1zM161 825h2v1h-2zM169 825h2v1h-2zM190 825h2v1h-2zM330 825h1v1h-1zM398 825h1v1h-1zM414 825h1v1h-1zM447 825h1v1h-1zM460 825h1v1h-1zM474 825h1v1h-1zM488 825h1v1h-1zM659 825h1v1h-1zM672 825h1v1h-1zM723 825h1v1h-1zM761 825h1v1h-1zM803 825h6v1h-6zM813 825h2v1h-2zM904 825h1v1h-1zM1232 825h1v1h-1zM1277 825h1v1h-1zM1324 825h1v1h-1zM1334 825h1v1h-1zM82 826h1v1h-1zM87 826h2v1h-2zM113 826h2v1h-2zM131 826h2v1h-2zM163 826h1v1h-1zM166 826h3v1h-3zM192 826h2v1h-2zM330 826h1v1h-1zM399 826h1v1h-1zM414 826h1v1h-1zM459 826h1v1h-1zM461 826h2v1h-2zM473 826h1v1h-1zM658 826h1v1h-1zM673 826h1v1h-1zM723 826h1v1h-1zM762 826h1v1h-1zM799 826h4v1h-4zM815 826h1v1h-1zM904 826h1v1h-1zM1233 826h1v1h-1zM1265 826h12v1h-12zM1324 826h5v1h-5zM1333 826h1v1h-1zM81 827h1v1h-1zM89 827h1v1h-1zM110 827h3v1h-3zM164 827h2v1h-2zM194 827h2v1h-2zM329 827h1v1h-1zM400 827h1v1h-1zM413 827h1v1h-1zM459 827h1v1h-1zM463 827h1v1h-1zM472 827h1v1h-1zM556 827h2v1h-2zM657 827h1v1h-1zM674 827h1v1h-1zM708 827h1v1h-1zM722 827h1v1h-1zM763 827h1v1h-1zM769 827h5v1h-5zM795 827h4v1h-4zM816 827h1v1h-1zM903 827h1v1h-1zM1233 827h1v1h-1zM1252 827h13v1h-13zM1329 827h4v1h-4zM80 828h1v1h-1zM90 828h1v1h-1zM99 828h11v1h-11zM196 828h1v1h-1zM328 828h1v1h-1zM401 828h1v1h-1zM413 828h1v1h-1zM458 828h1v1h-1zM464 828h1v1h-1zM471 828h1v1h-1zM555 828h1v1h-1zM558 828h3v1h-3zM656 828h1v1h-1zM675 828h1v1h-1zM707 828h1v1h-1zM709 828h1v1h-1zM721 828h1v1h-1zM764 828h5v1h-5zM774 828h2v1h-2zM791 828h4v1h-4zM817 828h2v1h-2zM903 828h1v1h-1zM1234 828h1v1h-1zM1250 828h2v1h-2zM12 829h1v1h-1zM80 829h1v1h-1zM91 829h1v1h-1zM95 829h4v1h-4zM197 829h1v1h-1zM327 829h1v1h-1zM402 829h1v1h-1zM411 829h2v1h-2zM449 829h1v1h-1zM457 829h1v1h-1zM465 829h2v1h-2zM470 829h1v1h-1zM553 829h2v1h-2zM561 829h2v1h-2zM655 829h1v1h-1zM676 829h5v1h-5zM706 829h1v1h-1zM710 829h1v1h-1zM720 829h1v1h-1zM776 829h2v1h-2zM787 829h4v1h-4zM819 829h1v1h-1zM825 829h13v1h-13zM902 829h1v1h-1zM1234 829h1v1h-1zM1248 829h2v1h-2zM10 830h2v1h-2zM13 830h2v1h-2zM36 830h3v1h-3zM79 830h1v1h-1zM92 830h3v1h-3zM198 830h1v1h-1zM228 830h1v1h-1zM326 830h1v1h-1zM403 830h1v1h-1zM407 830h4v1h-4zM449 830h1v1h-1zM457 830h1v1h-1zM467 830h1v1h-1zM469 830h1v1h-1zM552 830h1v1h-1zM563 830h14v1h-14zM654 830h1v1h-1zM681 830h4v1h-4zM705 830h1v1h-1zM711 830h1v1h-1zM720 830h1v1h-1zM778 830h2v1h-2zM783 830h4v1h-4zM820 830h5v1h-5zM838 830h3v1h-3zM902 830h1v1h-1zM1235 830h1v1h-1zM1246 830h2v1h-2zM0 831h1v1h-1zM9 831h1v1h-1zM15 831h2v1h-2zM34 831h2v1h-2zM39 831h4v1h-4zM78 831h1v1h-1zM199 831h2v1h-2zM227 831h1v1h-1zM229 831h1v1h-1zM326 831h1v1h-1zM404 831h3v1h-3zM456 831h1v1h-1zM468 831h1v1h-1zM515 831h2v1h-2zM551 831h1v1h-1zM577 831h5v1h-5zM653 831h1v1h-1zM685 831h1v1h-1zM703 831h2v1h-2zM712 831h1v1h-1zM719 831h1v1h-1zM780 831h3v1h-3zM841 831h2v1h-2zM901 831h1v1h-1zM1235 831h1v1h-1zM1241 831h5v1h-5zM1 832h2v1h-2zM7 832h2v1h-2zM17 832h1v1h-1zM33 832h1v1h-1zM43 832h2v1h-2zM77 832h1v1h-1zM201 832h1v1h-1zM227 832h1v1h-1zM230 832h1v1h-1zM325 832h1v1h-1zM455 832h1v1h-1zM500 832h3v1h-3zM513 832h2v1h-2zM516 832h1v1h-1zM549 832h2v1h-2zM582 832h2v1h-2zM651 832h2v1h-2zM686 832h1v1h-1zM702 832h1v1h-1zM713 832h1v1h-1zM718 832h1v1h-1zM843 832h2v1h-2zM901 832h1v1h-1zM1236 832h5v1h-5zM3 833h1v1h-1zM5 833h2v1h-2zM18 833h2v1h-2zM31 833h2v1h-2zM45 833h2v1h-2zM77 833h1v1h-1zM202 833h1v1h-1zM226 833h1v1h-1zM231 833h2v1h-2zM324 833h1v1h-1zM455 833h1v1h-1zM498 833h2v1h-2zM503 833h4v1h-4zM510 833h3v1h-3zM517 833h1v1h-1zM548 833h1v1h-1zM584 833h2v1h-2zM649 833h2v1h-2zM687 833h1v1h-1zM701 833h1v1h-1zM714 833h1v1h-1zM717 833h1v1h-1zM845 833h1v1h-1zM900 833h1v1h-1zM4 834h1v1h-1zM20 834h5v1h-5zM29 834h2v1h-2zM47 834h1v1h-1zM75 834h2v1h-2zM203 834h1v1h-1zM225 834h1v1h-1zM233 834h1v1h-1zM322 834h2v1h-2zM451 834h1v1h-1zM454 834h1v1h-1zM496 834h2v1h-2zM507 834h3v1h-3zM517 834h1v1h-1zM546 834h2v1h-2zM586 834h2v1h-2zM646 834h3v1h-3zM688 834h1v1h-1zM700 834h1v1h-1zM715 834h1v1h-1zM717 834h1v1h-1zM845 834h1v1h-1zM900 834h1v1h-1zM25 835h4v1h-4zM48 835h1v1h-1zM59 835h4v1h-4zM73 835h2v1h-2zM204 835h1v1h-1zM225 835h1v1h-1zM234 835h1v1h-1zM321 835h1v1h-1zM451 835h1v1h-1zM453 835h1v1h-1zM492 835h1v1h-1zM494 835h2v1h-2zM518 835h1v1h-1zM545 835h1v1h-1zM588 835h2v1h-2zM644 835h2v1h-2zM689 835h1v1h-1zM698 835h2v1h-2zM716 835h1v1h-1zM846 835h1v1h-1zM49 836h2v1h-2zM57 836h2v1h-2zM63 836h4v1h-4zM70 836h3v1h-3zM205 836h1v1h-1zM224 836h1v1h-1zM235 836h1v1h-1zM319 836h2v1h-2zM452 836h2v1h-2zM492 836h2v1h-2zM518 836h1v1h-1zM543 836h2v1h-2zM590 836h2v1h-2zM642 836h2v1h-2zM690 836h1v1h-1zM696 836h2v1h-2zM847 836h1v1h-1zM51 837h1v1h-1zM54 837h3v1h-3zM67 837h3v1h-3zM205 837h1v1h-1zM223 837h1v1h-1zM236 837h3v1h-3zM283 837h11v1h-11zM317 837h2v1h-2zM452 837h1v1h-1zM519 837h1v1h-1zM532 837h5v1h-5zM541 837h2v1h-2zM592 837h2v1h-2zM640 837h2v1h-2zM691 837h1v1h-1zM694 837h2v1h-2zM848 837h1v1h-1zM52 838h2v1h-2zM206 838h1v1h-1zM223 838h1v1h-1zM239 838h4v1h-4zM281 838h2v1h-2zM294 838h3v1h-3zM307 838h10v1h-10zM519 838h1v1h-1zM531 838h1v1h-1zM537 838h4v1h-4zM594 838h2v1h-2zM620 838h2v1h-2zM638 838h2v1h-2zM692 838h2v1h-2zM848 838h1v1h-1zM206 839h1v1h-1zM222 839h1v1h-1zM243 839h2v1h-2zM278 839h3v1h-3zM297 839h2v1h-2zM303 839h4v1h-4zM520 839h1v1h-1zM531 839h1v1h-1zM596 839h9v1h-9zM619 839h1v1h-1zM622 839h3v1h-3zM635 839h3v1h-3zM849 839h1v1h-1zM207 840h1v1h-1zM221 840h1v1h-1zM245 840h1v1h-1zM276 840h2v1h-2zM299 840h4v1h-4zM520 840h1v1h-1zM530 840h1v1h-1zM605 840h1v1h-1zM619 840h1v1h-1zM625 840h2v1h-2zM631 840h4v1h-4zM850 840h1v1h-1zM208 841h1v1h-1zM221 841h1v1h-1zM246 841h1v1h-1zM276 841h1v1h-1zM521 841h1v1h-1zM529 841h1v1h-1zM605 841h1v1h-1zM618 841h1v1h-1zM627 841h4v1h-4zM851 841h1v1h-1zM208 842h1v1h-1zM220 842h1v1h-1zM246 842h1v1h-1zM275 842h1v1h-1zM521 842h1v1h-1zM528 842h1v1h-1zM606 842h1v1h-1zM618 842h1v1h-1zM851 842h1v1h-1zM209 843h1v1h-1zM219 843h1v1h-1zM247 843h1v1h-1zM275 843h1v1h-1zM522 843h1v1h-1zM528 843h1v1h-1zM606 843h1v1h-1zM617 843h1v1h-1zM852 843h3v1h-3zM210 844h1v1h-1zM217 844h2v1h-2zM248 844h1v1h-1zM522 844h1v1h-1zM527 844h1v1h-1zM607 844h1v1h-1zM617 844h1v1h-1zM855 844h4v1h-4zM210 845h1v1h-1zM216 845h1v1h-1zM249 845h1v1h-1zM523 845h1v1h-1zM526 845h1v1h-1zM608 845h1v1h-1zM616 845h1v1h-1zM859 845h2v1h-2zM211 846h1v1h-1zM215 846h1v1h-1zM250 846h1v1h-1zM523 846h1v1h-1zM525 846h1v1h-1zM608 846h1v1h-1zM615 846h1v1h-1zM861 846h1v1h-1zM211 847h1v1h-1zM213 847h2v1h-2zM250 847h1v1h-1zM524 847h2v1h-2zM609 847h1v1h-1zM615 847h1v1h-1zM861 847h1v1h-1zM212 848h1v1h-1zM251 848h1v1h-1zM524 848h1v1h-1zM610 848h1v1h-1zM614 848h1v1h-1zM862 848h1v1h-1zM876 848h1v1h-1zM252 849h1v1h-1zM610 849h1v1h-1zM614 849h1v1h-1zM862 849h1v1h-1zM875 849h1v1h-1zM877 849h1v1h-1zM253 850h1v1h-1zM272 850h1v1h-1zM611 850h1v1h-1zM613 850h1v1h-1zM863 850h1v1h-1zM875 850h1v1h-1zM878 850h1v1h-1zM253 851h1v1h-1zM272 851h1v1h-1zM611 851h1v1h-1zM613 851h1v1h-1zM863 851h1v1h-1zM874 851h1v1h-1zM879 851h2v1h-2zM254 852h1v1h-1zM612 852h1v1h-1zM864 852h1v1h-1zM873 852h1v1h-1zM881 852h1v1h-1zM254 853h1v1h-1zM864 853h1v1h-1zM873 853h1v1h-1zM882 853h1v1h-1zM255 854h1v1h-1zM865 854h1v1h-1zM872 854h1v1h-1zM883 854h1v1h-1zM255 855h1v1h-1zM865 855h1v1h-1zM871 855h1v1h-1zM884 855h2v1h-2zM256 856h1v1h-1zM866 856h1v1h-1zM871 856h1v1h-1zM886 856h2v1h-2zM257 857h1v1h-1zM866 857h1v1h-1zM870 857h1v1h-1zM888 857h2v1h-2zM257 858h1v1h-1zM269 858h1v1h-1zM867 858h1v1h-1zM869 858h1v1h-1zM890 858h3v1h-3zM258 859h1v1h-1zM269 859h1v1h-1zM867 859h1v1h-1zM869 859h1v1h-1zM892 859h1v1h-1zM258 860h1v1h-1zM268 860h1v1h-1zM868 860h1v1h-1zM259 861h1v1h-1zM267 861h2v1h-2zM259 862h1v1h-1zM263 862h4v1h-4zM260 863h3v1h-3z" fill="#1e90ff" shape-rendering="crispEdges"/>
<g shape-rendering="crispEdges">
<rect x="1687" y="145" width="2" height="1" fill="#000"/>
<rect x="1687" y="178" width="2" height="1" fill="#000"/>
<rect x="1687" y="211" width="2" height="1" fill="#000"/>
<rect x="1687" y="244" width="2" height="1" fill="#000"/>
<rect x="1687" y="277" width="2" height="1" fill="#000"/>
<rect x="1687" y="310" width="2" height="1" fill="#000"/>
<rect x="1687" y="343" width="2" height="1" fill="#000"/>
<rect x="1687" y="376" width="2" height="1" fill="#000"/>
<rect x="1687" y="409" width="2" height="1" fill="#000"/>
<rect x="1687" y="442" width="2" height="1" fill="#000"/>
<rect x="1687" y="475" width="2" height="1" fill="#000"/>
<rect x="1687" y="508" width="2" height="1" fill="#000"/>
<rect x="1687" y="541" width="2" height="1" fill="#000"/>
<rect x="1687" y="574" width="2" height="1" fill="#000"/>
<rect x="1688" y="28" width="41" height="11" fill="#ff0000"/>
<rect x="1688" y="43" width="41" height="11" fill="#000"/>
<rect x="1687" y="49" width="2" height="1" fill="#000"/>
<rect x="1688" y="44" width="41" height="11" fill="#ff0000"/>
<rect x="1688" y="66" width="41" height="11" fill="#000"/>
<rect x="1687" y="72" width="2" height="1" fill="#000"/>
<rect x="1688" y="73" width="41" height="11" fill="#32cd32"/>
<rect x="1688" y="91" width="41" height="11" fill="#0000ff"/>
<rect x="1688" y="106" width="41" height="11" fill="#0000ff"/>
</g>
<text x="1692" y="149" font-size="10px" fill="#000" textLength="32.8" lengthAdjust="spacingAndGlyphs" xml:space="preserve">27625.0</text>
<text x="1692" y="182" font-size="10px" fill="#000" textLength="32.8" lengthAdjust="spacingAndGlyphs" xml:space="preserve">27149.0</text>
<text x="1692" y="215" font-size="10px" fill="#000" textLength="32.8" lengthAdjust="spacingAndGlyphs" xml:space="preserve">26687.0</text>
<text x="1692" y="248" font-size="10px" fill="#000" textLength="32.8" lengthAdjust="spacingAndGlyphs" xml:space="preserve">26211.0</text>
<text x="1692" y="281" font-size="10px" fill="#000" textLength="32.8" lengthAdjust="spacingAndGlyphs" xml:space="preserve">25749.0</text>
<text x="1692" y="314" font-size="10px" fill="#000" textLength="32.8" lengthAdjust="spacingAndGlyphs" xml:space="preserve">25273.0</text>
<text x="1692" y="347" font-size="10px" fill="#000" textLength="32.8" lengthAdjust="spacingAndGlyphs" xml:space="preserve">24811.0</text>
<text x="1692" y="380" font-size="10px" fill="#000" textLength="32.8" lengthAdjust="spacingAndGlyphs" xml:space="preserve">24335.0</text>
<text x="1692" y="413" font-size="10px" fill="#000" textLength="32.8" lengthAdjust="spacingAndGlyphs" xml:space="preserve">23873.0</text>
<text x="1692" y="446" font-size="10px" fill="#000" textLength="32.8" lengthAdjust="spacingAndGlyphs" xml:space="preserve">23397.0</text>
<text x="1692" y="479" font-size="10px" fill="#000" textLength="32.8" lengthAdjust="spacingAndGlyphs" xml:space="preserve">22935.0</text>
<text x="1692" y="512" font-size="10px" fill="#000" textLength="32.8" lengthAdjust="spacingAndGlyphs" xml:space="preserve">22459.0</text>
<text x="1692" y="545" font-size="10px" fill="#000" textLength="32.8" lengthAdjust="spacingAndGlyphs" xml:space="preserve">21997.0</text>
<text x="1692" y="578" font-size="10px" fill="#000" textLength="32.8" lengthAdjust="spacingAndGlyphs" xml:space="preserve">21535.0</text>
<text x="1692" y="37" font-size="10px" fill="#fff" textLength="32.8" lengthAdjust="spacingAndGlyphs" xml:space="preserve">29189.4</text>
<text x="1692" y="53" font-size="10px" fill="#fff" textLength="32.8" lengthAdjust="spacingAndGlyphs" xml:space="preserve">28962.7</text>
<text x="1692" y="75" font-size="10px" fill="#fff" textLength="32.8" lengthAdjust="spacingAndGlyphs" xml:space="preserve">28670.0</text>
<text x="1692" y="82" font-size="10px" fill="#fff" textLength="32.8" lengthAdjust="spacingAndGlyphs" xml:space="preserve">28551.6</text>
<text x="1692" y="100" font-size="10px" fill="#fff" textLength="32.8" lengthAdjust="spacingAndGlyphs" xml:space="preserve">28296.5</text>
<text x="1692" y="115" font-size="10px" fill="#fff" textLength="32.8" lengthAdjust="spacingAndGlyphs" xml:space="preserve">28083.9</text>
<rect x="1688" y="73" width="41" height="11" fill="#32cd32"/>
<text x="1692" y="82" font-size="10px" fill="#fff" textLength="32.8" lengthAdjust="spacingAndGlyphs" xml:space="preserve">28551.6</text>
<rect x="1688" y="44" width="41" height="11" fill="#ff0000"/>
<text x="1692" y="53" font-size="10px" fill="#fff" textLength="32.8" lengthAdjust="spacingAndGlyphs" xml:space="preserve">28962.7</text>
<text x="1690" y="590" font-size="10px" fill="#000" textLength="22.8" lengthAdjust="spacingAndGlyphs" xml:space="preserve">715.8</text>
<text x="1690" y="732" font-size="10px" fill="#000" textLength="17.8" lengthAdjust="spacingAndGlyphs" xml:space="preserve">0.00</text>
<text x="1690" y="746" font-size="10px" fill="#000" textLength="30.8" lengthAdjust="spacingAndGlyphs" xml:space="preserve">-100.05</text>
<text x="1690" y="761.8" font-size="10px" fill="#000" textLength="14.8" lengthAdjust="spacingAndGlyphs" xml:space="preserve">100</text>
<text x="1690" y="790.7" font-size="10px" fill="#000" textLength="9.8" lengthAdjust="spacingAndGlyphs" xml:space="preserve">80</text>
<text x="1690" y="842" font-size="10px" fill="#000" textLength="9.8" lengthAdjust="spacingAndGlyphs" xml:space="preserve">50</text>
<text x="1690" y="903" font-size="10px" fill="#000" textLength="9.8" lengthAdjust="spacingAndGlyphs" xml:space="preserve">15</text>
<text x="1690" y="922" font-size="10px" fill="#000" textLength="4.8" lengthAdjust="spacingAndGlyphs" xml:space="preserve">0</text>
<g shape-rendering="crispEdges">
<rect x="1687" y="581" width="1" height="1" fill="#000"/>
<rect x="1687" y="728" width="1" height="1" fill="#000"/>
<rect x="1687" y="748" width="1" height="1" fill="#000"/>
<rect x="1687" y="753" width="1" height="1" fill="#000"/>
<rect x="1687" y="923" width="1" height="1" fill="#000"/>
</g>
<text x="11" y="35.7" font-size="10px" fill="#000" textLength="58.5" lengthAdjust="spacingAndGlyphs">JPN225-,Daily</text>
<text x="77.4" y="35.7" font-size="10px" fill="#000" textLength="32.8" lengthAdjust="spacingAndGlyphs" xml:space="preserve">28790.0</text>
<text x="113.4" y="35.7" font-size="10px" fill="#000" textLength="32.8" lengthAdjust="spacingAndGlyphs" xml:space="preserve">28797.5</text>
<text x="149.4" y="35.7" font-size="10px" fill="#000" textLength="32.8" lengthAdjust="spacingAndGlyphs" xml:space="preserve">28370.0</text>
<text x="185.4" y="35.7" font-size="10px" fill="#000" textLength="32.8" lengthAdjust="spacingAndGlyphs" xml:space="preserve">28670.0</text>
<polygon points="0,35.2 6.6,35.2 3.3,31" fill="#000"/>
<text x="1" y="591.6" font-size="10px" fill="#000" textLength="125.8" lengthAdjust="spacingAndGlyphs" xml:space="preserve">MACD(12,26,9) 497.52 471.65</text>
<text x="1" y="763.4" font-size="10px" fill="#000" textLength="67.8" lengthAdjust="spacingAndGlyphs" xml:space="preserve">RSI(14) 65.6492</text>
<g shape-rendering="crispEdges">
<rect x="60" y="926" width="1" height="3" fill="#000"/>
<rect x="124" y="926" width="1" height="3" fill="#000"/>
<rect x="188" y="926" width="1" height="3" fill="#000"/>
<rect x="252" y="926" width="1" height="3" fill="#000"/>
<rect x="316" y="926" width="1" height="3" fill="#000"/>
<rect x="380" y="926" width="1" height="3" fill="#000"/>
<rect x="444" y="926" width="1" height="3" fill="#000"/>
<rect x="508" y="926" width="1" height="3" fill="#000"/>
<rect x="572" y="926" width="1" height="3" fill="#000"/>
<rect x="636" y="926" width="1" height="3" fill="#000"/>
<rect x="700" y="926" width="1" height="3" fill="#000"/>
<rect x="764" y="926" width="1" height="3" fill="#000"/>
<rect x="828" y="926" width="1" height="3" fill="#000"/>
<rect x="892" y="926" width="1" height="3" fill="#000"/>
<rect x="956" y="926" width="1" height="3" fill="#000"/>
<rect x="1020" y="926" width="1" height="3" fill="#000"/>
<rect x="1084" y="926" width="1" height="3" fill="#000"/>
<rect x="1148" y="926" width="1" height="3" fill="#000"/>
<rect x="1212" y="926" width="1" height="3" fill="#000"/>
<rect x="1276" y="926" width="1" height="3" fill="#000"/>
<rect x="1340" y="926" width="1" height="3" fill="#000"/>
<rect x="1404" y="926" width="1" height="3" fill="#000"/>
</g>
<text x="-5.2" y="938.3" font-size="10px" fill="#000" textLength="49.8" lengthAdjust="spacingAndGlyphs" xml:space="preserve">23 Jun 2020</text>
<text x="58.8" y="938.3" font-size="10px" fill="#000" textLength="41.8" lengthAdjust="spacingAndGlyphs" xml:space="preserve">2 Jul 2020</text>
<text x="122.8" y="938.3" font-size="10px" fill="#000" textLength="46.8" lengthAdjust="spacingAndGlyphs" xml:space="preserve">12 Jul 2020</text>
<text x="186.8" y="938.3" font-size="10px" fill="#000" textLength="46.8" lengthAdjust="spacingAndGlyphs" xml:space="preserve">21 Jul 2020</text>
<text x="250.8" y="938.3" font-size="10px" fill="#000" textLength="46.8" lengthAdjust="spacingAndGlyphs" xml:space="preserve">30 Jul 2020</text>
<text x="314.8" y="938.3" font-size="10px" fill="#000" textLength="46.8" lengthAdjust="spacingAndGlyphs" xml:space="preserve">9 Aug 2020</text>
<text x="378.8" y="938.3" font-size="10px" fill="#000" textLength="51.8" lengthAdjust="spacingAndGlyphs" xml:space="preserve">18 Aug 2020</text>
<text x="442.8" y="938.3" font-size="10px" fill="#000" textLength="51.8" lengthAdjust="spacingAndGlyphs" xml:space="preserve">27 Aug 2020</text>
<text x="506.8" y="938.3" font-size="10px" fill="#000" textLength="45.8" lengthAdjust="spacingAndGlyphs" xml:space="preserve">6 Sep 2020</text>
<text x="570.8" y="938.3" font-size="10px" fill="#000" textLength="50.8" lengthAdjust="spacingAndGlyphs" xml:space="preserve">15 Sep 2020</text>
<text x="634.8" y="938.3" font-size="10px" fill="#000" textLength="50.8" lengthAdjust="spacingAndGlyphs" xml:space="preserve">24 Sep 2020</text>
<text x="698.8" y="938.3" font-size="10px" fill="#000" textLength="44.8" lengthAdjust="spacingAndGlyphs" xml:space="preserve">4 Oct 2020</text>
<text x="762.8" y="938.3" font-size="10px" fill="#000" textLength="49.8" lengthAdjust="spacingAndGlyphs" xml:space="preserve">13 Oct 2020</text>
<text x="826.8" y="938.3" font-size="10px" fill="#000" textLength="49.8" lengthAdjust="spacingAndGlyphs" xml:space="preserve">22 Oct 2020</text>
<text x="890.8" y="938.3" font-size="10px" fill="#000" textLength="46.8" lengthAdjust="spacingAndGlyphs" xml:space="preserve">1 Nov 2020</text>
<text x="954.8" y="938.3" font-size="10px" fill="#000" textLength="51.8" lengthAdjust="spacingAndGlyphs" xml:space="preserve">10 Nov 2020</text>
<text x="1018.8" y="938.3" font-size="10px" fill="#000" textLength="51.8" lengthAdjust="spacingAndGlyphs" xml:space="preserve">19 Nov 2020</text>
<text x="1082.8" y="938.3" font-size="10px" fill="#000" textLength="51.8" lengthAdjust="spacingAndGlyphs" xml:space="preserve">29 Nov 2020</text>
<text x="1146.8" y="938.3" font-size="10px" fill="#000" textLength="45.8" lengthAdjust="spacingAndGlyphs" xml:space="preserve">8 Dec 2020</text>
<text x="1210.8" y="938.3" font-size="10px" fill="#000" textLength="50.8" lengthAdjust="spacingAndGlyphs" xml:space="preserve">17 Dec 2020</text>
<text x="1274.8" y="938.3" font-size="10px" fill="#000" textLength="50.8" lengthAdjust="spacingAndGlyphs" xml:space="preserve">27 Dec 2020</text>
<text x="1338.8" y="938.3" font-size="10px" fill="#000" textLength="44.8" lengthAdjust="spacingAndGlyphs" xml:space="preserve">6 Jan 2021</text>
<text x="1402.8" y="938.3" font-size="10px" fill="#000" textLength="49.8" lengthAdjust="spacingAndGlyphs" xml:space="preserve">15 Jan 2021</text></svg>
<svg width="1733" height="22" viewBox="0 0 1733 22" style="position:absolute;left:0;top:0" font-family="Liberation Sans, Noto Sans CJK SC, sans-serif">
<defs><linearGradient id="gold" x1="0" y1="0" x2="1" y2="1"><stop offset="0" stop-color="#fff0a0"/><stop offset="0.5" stop-color="#f0c030"/><stop offset="1" stop-color="#b07808"/></linearGradient><linearGradient id="lens" x1="0" y1="0" x2="0" y2="1"><stop offset="0" stop-color="#eaf4ff"/><stop offset="1" stop-color="#a8cdf0"/></linearGradient><linearGradient id="grn" x1="0" y1="0" x2="0" y2="1"><stop offset="0" stop-color="#50e050"/><stop offset="1" stop-color="#0a9a0a"/></linearGradient><linearGradient id="redb" x1="0" y1="0" x2="0" y2="1"><stop offset="0" stop-color="#e8583a"/><stop offset="1" stop-color="#c82818"/></linearGradient><linearGradient id="blu" x1="0" y1="0" x2="0" y2="1"><stop offset="0" stop-color="#5aa8f0"/><stop offset="1" stop-color="#1858b8"/></linearGradient><pattern id="press" width="2" height="2" patternUnits="userSpaceOnUse"><rect width="2" height="2" fill="#f6f6f6"/><rect width="1" height="1" fill="#ececec"/><rect x="1" y="1" width="1" height="1" fill="#ececec"/></pattern><linearGradient id="cloud" x1="0" y1="0" x2="0" y2="1"><stop offset="0" stop-color="#ffffff"/><stop offset="1" stop-color="#b4c2dc"/></linearGradient><linearGradient id="sig" x1="0" y1="0" x2="0.3" y2="1"><stop offset="0" stop-color="#dceadc" stop-opacity="0.5"/><stop offset="1" stop-color="#38a040"/></linearGradient><linearGradient id="face" x1="0" y1="0" x2="1" y2="1"><stop offset="0" stop-color="#f4c820"/><stop offset="0.5" stop-color="#fff098"/><stop offset="1" stop-color="#f0c020"/></linearGradient><clipPath id="lefthalf"><rect x="179" y="-1" width="9" height="18"/></clipPath></defs>
<rect x="322" y="0" width="24" height="18" fill="url(#press)" />
<rect x="474" y="0" width="24" height="18" fill="url(#press)" />
<rect x="502" y="0" width="24" height="18" fill="url(#press)" />
<rect x="662" y="0" width="24" height="18" fill="url(#press)" />
<rect x="1136" y="0" width="24" height="18" fill="url(#press)" />
<g shape-rendering="crispEdges">
<rect x="47" y="0" width="1" height="18" fill="#a0a0a0" />
<rect x="321" y="0" width="1" height="18" fill="#a0a0a0" />
<rect x="378" y="0" width="1" height="18" fill="#a0a0a0" />
<rect x="468" y="0" width="1" height="18" fill="#a0a0a0" />
<rect x="473" y="0" width="1" height="18" fill="#a0a0a0" />
<rect x="501" y="0" width="1" height="18" fill="#a0a0a0" />
<rect x="530" y="0" width="1" height="18" fill="#a0a0a0" />
<rect x="718" y="0" width="1" height="18" fill="#a0a0a0" />
<rect x="283" y="0" width="1" height="20" fill="#a0a0a0" />
<rect x="284" y="0" width="1" height="20" fill="#ffffff" />
<rect x="287" y="1" width="3" height="1" fill="#a2a2a2" />
<rect x="287" y="2" width="3" height="1" fill="#fafafa" />
<rect x="287" y="3" width="3" height="1" fill="#a2a2a2" />
<rect x="287" y="4" width="3" height="1" fill="#fafafa" />
<rect x="287" y="5" width="3" height="1" fill="#a2a2a2" />
<rect x="287" y="6" width="3" height="1" fill="#fafafa" />
<rect x="287" y="7" width="3" height="1" fill="#a2a2a2" />
<rect x="287" y="8" width="3" height="1" fill="#fafafa" />
<rect x="287" y="9" width="3" height="1" fill="#a2a2a2" />
<rect x="287" y="10" width="3" height="1" fill="#fafafa" />
<rect x="287" y="11" width="3" height="1" fill="#a2a2a2" />
<rect x="287" y="12" width="3" height="1" fill="#fafafa" />
<rect x="287" y="13" width="3" height="1" fill="#a2a2a2" />
<rect x="287" y="14" width="3" height="1" fill="#fafafa" />
<rect x="287" y="15" width="3" height="1" fill="#a2a2a2" />
<rect x="287" y="16" width="3" height="1" fill="#fafafa" />
<rect x="651" y="0" width="1" height="20" fill="#a0a0a0" />
<rect x="652" y="0" width="1" height="20" fill="#ffffff" />
<rect x="655" y="1" width="3" height="1" fill="#a2a2a2" />
<rect x="655" y="2" width="3" height="1" fill="#fafafa" />
<rect x="655" y="3" width="3" height="1" fill="#a2a2a2" />
<rect x="655" y="4" width="3" height="1" fill="#fafafa" />
<rect x="655" y="5" width="3" height="1" fill="#a2a2a2" />
<rect x="655" y="6" width="3" height="1" fill="#fafafa" />
<rect x="655" y="7" width="3" height="1" fill="#a2a2a2" />
<rect x="655" y="8" width="3" height="1" fill="#fafafa" />
<rect x="655" y="9" width="3" height="1" fill="#a2a2a2" />
<rect x="655" y="10" width="3" height="1" fill="#fafafa" />
<rect x="655" y="11" width="3" height="1" fill="#a2a2a2" />
<rect x="655" y="12" width="3" height="1" fill="#fafafa" />
<rect x="655" y="13" width="3" height="1" fill="#a2a2a2" />
<rect x="655" y="14" width="3" height="1" fill="#fafafa" />
<rect x="655" y="15" width="3" height="1" fill="#a2a2a2" />
<rect x="655" y="16" width="3" height="1" fill="#fafafa" />
<rect x="957" y="0" width="1" height="20" fill="#a0a0a0" />
<rect x="958" y="0" width="1" height="20" fill="#ffffff" />
<rect x="961" y="1" width="3" height="1" fill="#a2a2a2" />
<rect x="961" y="2" width="3" height="1" fill="#fafafa" />
<rect x="961" y="3" width="3" height="1" fill="#a2a2a2" />
<rect x="961" y="4" width="3" height="1" fill="#fafafa" />
<rect x="961" y="5" width="3" height="1" fill="#a2a2a2" />
<rect x="961" y="6" width="3" height="1" fill="#fafafa" />
<rect x="961" y="7" width="3" height="1" fill="#a2a2a2" />
<rect x="961" y="8" width="3" height="1" fill="#fafafa" />
<rect x="961" y="9" width="3" height="1" fill="#a2a2a2" />
<rect x="961" y="10" width="3" height="1" fill="#fafafa" />
<rect x="961" y="11" width="3" height="1" fill="#a2a2a2" />
<rect x="961" y="12" width="3" height="1" fill="#fafafa" />
<rect x="961" y="13" width="3" height="1" fill="#a2a2a2" />
<rect x="961" y="14" width="3" height="1" fill="#fafafa" />
<rect x="961" y="15" width="3" height="1" fill="#a2a2a2" />
<rect x="961" y="16" width="3" height="1" fill="#fafafa" />
<rect x="661" y="0" width="1" height="18" fill="#a0a0a0" />
<rect x="1135" y="0" width="1" height="18" fill="#a0a0a0" />
<rect x="1218" y="0" width="1" height="20" fill="#a0a0a0" />
<rect x="1219" y="0" width="1" height="20" fill="#fff" />
</g>
<rect x="-3" y="1.5" width="12" height="13" rx="1" fill="#fff" stroke="#3a78c0" stroke-width="1.4"/>
<line x1="0" y1="4.5" x2="8" y2="4.5" stroke="#c4d4f4" stroke-width="1"/>
<line x1="0" y1="6.5" x2="8" y2="6.5" stroke="#c4d4f4" stroke-width="1"/>
<line x1="0" y1="8.5" x2="8" y2="8.5" stroke="#c4d4f4" stroke-width="1"/>
<line x1="0" y1="10.5" x2="8" y2="10.5" stroke="#c4d4f4" stroke-width="1"/>
<rect x="22.5" y="0.5" width="12" height="13" fill="#fbfbf6" stroke="#b0a890" stroke-width="1"/>
<path d="M25 3v6M24 4h1M25 7h1M31 2v6M30 3h1M31 6h1" stroke="#555" stroke-width="1" fill="none"/>
<line x1="33.5" y1="12.5" x2="38.5" y2="17" stroke="#c8a020" stroke-width="2.4" stroke-linecap="round"/>
<circle cx="29.5" cy="8.5" r="5" fill="url(#lens)" fill-opacity="0.85" stroke="#6a98d8" stroke-width="1.2"/>
<rect x="28" y="6" width="3" height="5" fill="#8a9ab0" fill-opacity="0.7"/>
<path d="M57.5 1.5h8l3.5 3.5v8.5h-11.5z" fill="#fff" stroke="#909090" stroke-width="1"/>
<path d="M65.5 1.5v3.5h3.5" fill="#e8e8e8" stroke="#909090" stroke-width="1"/>
<path d="M59 3.5h3M59 6.5h6M59 8.5h6M59 10.5h4" stroke="#888" stroke-width="1"/>
<path d="M65.5 6.5h4v4h4v4h-4v4h-4v-4h-4v-4h4z" fill="url(#grn)" stroke="#0a7a0a" stroke-width="0.8"/>
<text x="76" y="11.5" font-size="12px" fill="#000" textLength="36" lengthAdjust="spacingAndGlyphs">新订单</text>
<path d="M124.3 8.8l.1 1.8 7 5 8.3-6-.900-2.6z" fill="#b88018" stroke="#9a6408" stroke-width="0.6"/>
<path d="M125.5 10.3l6 4.3 7.6-5.6" fill="none" stroke="#f0dc90" stroke-width="0.700"/>
<path d="M130 1.2l8.8 5.8-6.8 6.3-7.6-4.5z" fill="url(#gold)" stroke="#a87010" stroke-width="0.900"/>
<path d="M154.3 1.2l2-1.700h8.700v10h-10.700z" fill="#1c98f4" stroke="#1878d8" stroke-width="0.6"/>
<path d="M154.3 1.2l3 1.3v7.5h-3z" fill="#0c88ec"/>
<path d="M157.3 2.5h7.700" stroke="#bfe4ff" stroke-width="0.8"/>
<rect x="159" y="4.2" width="4.5" height="1.5" fill="#e8f6ff"/>
<path d="M155.3 15.700c-4.3 0-4.3-5 -.3-5.2c.5-2.8 4.8-3 5.8-.8c2-2.2 5.8-.6 5 2c3.2 .2 3 4-.3 4z" fill="url(#cloud)" stroke="#4a68b0" stroke-width="1"/>
<path d="M188 -.2a8 8 0 0 1 0 16z" fill="url(#sig)"/>
<circle cx="188" cy="7.8" r="7.5" fill="none" stroke="#7c9ce0" stroke-width="1" stroke-dasharray="1.6 1" opacity="0.8" clip-path="url(#lefthalf)"/>
<circle cx="188" cy="7.8" r="4.6" fill="none" stroke="#7c9ce0" stroke-width="1" stroke-dasharray="1.6 1" opacity="0.8" clip-path="url(#lefthalf)"/>
<path d="M188 .3a7.5 7.5 0 0 1 0 15" fill="none" stroke="#58a070" stroke-width="0.900" opacity="0.700"/>
<path d="M188 3.2a4.6 4.6 0 0 1 0 9.2" fill="none" stroke="#eef6ee" stroke-width="1" opacity="0.8"/>
<circle cx="188" cy="7.6" r="2" fill="#2858c8"/>
<rect x="187.900" y="8" width="1.3" height="7.8" fill="#20a020"/>
<path d="M207.8 7l14.700-.5-6.5 9-1.5 0z" fill="url(#face)" stroke="#d8a820" stroke-width="0.700"/>
<ellipse cx="215" cy="4.3" rx="7.900" ry="2.8" fill="#5cb0e8" stroke="#2488c0" stroke-width="0.8"/>
<path d="M211.8 3.8c-.3-5.5 6.8-5.5 6.5 0c-2 1.2-4.5 1.2-6.5 0z" fill="#7cc4f0" stroke="#2c90c8" stroke-width="0.6"/>
<circle cx="219.6" cy="11.900" r="4.3" fill="#d42010"/>
<circle cx="219.6" cy="11.3" r="3.3" fill="#f03818" opacity="0.6"/>
<rect x="218" y="10.3" width="3.2" height="3.2" fill="#fff"/>
<text x="228" y="11.5" font-size="12px" fill="#000" textLength="47" lengthAdjust="spacingAndGlyphs">自动交易</text>
<g shape-rendering="crispEdges" fill="#505050"><rect x="301" y="3" width="1" height="13" fill="#505050" /><rect x="299" y="13" width="14" height="1" fill="#505050" /><rect x="300" y="4" width="3" height="1" fill="#505050" /><rect x="312" y="12" width="1" height="3" fill="#505050" /><rect x="301" y="2" width="1" height="1" fill="#505050" /><rect x="313" y="13" width="1" height="1" fill="#505050" /></g>
<g shape-rendering="crispEdges"><rect x="307" y="4" width="1" height="8" fill="#209020" /><rect x="308" y="4" width="2" height="1" fill="#209020" /><rect x="305" y="11" width="2" height="1" fill="#209020" /></g>
<g shape-rendering="crispEdges" fill="#505050"><rect x="329" y="3" width="1" height="13" fill="#505050" /><rect x="327" y="13" width="14" height="1" fill="#505050" /><rect x="328" y="4" width="3" height="1" fill="#505050" /><rect x="340" y="12" width="1" height="3" fill="#505050" /><rect x="329" y="2" width="1" height="1" fill="#505050" /><rect x="341" y="13" width="1" height="1" fill="#505050" /></g>
<g shape-rendering="crispEdges"><rect x="335" y="0" width="1" height="12" fill="#108010" /><rect x="333" y="3" width="5" height="6" fill="#20c030" /></g>
<rect x="333.5" y="3.5" width="4" height="5" fill="none" stroke="#108010" stroke-width="1"/>
<g shape-rendering="crispEdges" fill="#505050"><rect x="357" y="3" width="1" height="13" fill="#505050" /><rect x="355" y="13" width="14" height="1" fill="#505050" /><rect x="356" y="4" width="3" height="1" fill="#505050" /><rect x="368" y="12" width="1" height="3" fill="#505050" /><rect x="357" y="2" width="1" height="1" fill="#505050" /><rect x="369" y="13" width="1" height="1" fill="#505050" /></g>
<path d="M356 11c3-6 6-8 12-2" fill="none" stroke="#30a030" stroke-width="1.2"/>
<line x1="397" y1="10" x2="402.5" y2="14.5" stroke="#d0a828" stroke-width="2.6" stroke-linecap="round"/>
<circle cx="393" cy="5.8" r="5.3" fill="url(#lens)" stroke="#3a80d0" stroke-width="1.3"/>
<line x1="390" y1="5.8" x2="396" y2="5.8" stroke="#3a78c8" stroke-width="1.6"/>
<line x1="393" y1="2.8" x2="393" y2="8.8" stroke="#3a78c8" stroke-width="1.6"/>
<line x1="425" y1="10" x2="430.5" y2="14.5" stroke="#d0a828" stroke-width="2.6" stroke-linecap="round"/>
<circle cx="421" cy="5.8" r="5.3" fill="url(#lens)" stroke="#3a80d0" stroke-width="1.3"/>
<line x1="418" y1="5.8" x2="424" y2="5.8" stroke="#3a78c8" stroke-width="1.6"/>
<rect x="443" y="0" width="8" height="7.5" rx="0.8" fill="#58a828"/>
<rect x="444.5" y="3" width="5" height="3" fill="#fff" fill-opacity="0.9"/>
<rect x="451.5" y="0" width="8" height="7.5" rx="0.8" fill="#2858c8"/>
<rect x="453.0" y="3" width="5" height="3" fill="#fff" fill-opacity="0.9"/>
<rect x="443" y="8" width="8" height="7.5" rx="0.8" fill="#2858c8"/>
<rect x="444.5" y="11" width="5" height="3" fill="#fff" fill-opacity="0.9"/>
<rect x="451.5" y="8" width="8" height="7.5" rx="0.8" fill="#58a828"/>
<rect x="453.0" y="11" width="5" height="3" fill="#fff" fill-opacity="0.9"/>
<g shape-rendering="crispEdges" fill="#505050"><rect x="481" y="3" width="1" height="13" fill="#505050" /><rect x="479" y="13" width="14" height="1" fill="#505050" /><rect x="480" y="4" width="3" height="1" fill="#505050" /><rect x="492" y="12" width="1" height="3" fill="#505050" /><rect x="481" y="2" width="1" height="1" fill="#505050" /><rect x="493" y="13" width="1" height="1" fill="#505050" /></g>
<path d="M486.5 4l4.5 3.2-4.5 3.2z" fill="#58d058" stroke="#209020" stroke-width="1"/>
<g shape-rendering="crispEdges" fill="#505050"><rect x="509" y="3" width="1" height="13" fill="#505050" /><rect x="507" y="13" width="14" height="1" fill="#505050" /><rect x="508" y="4" width="3" height="1" fill="#505050" /><rect x="520" y="12" width="1" height="3" fill="#505050" /><rect x="509" y="2" width="1" height="1" fill="#505050" /><rect x="521" y="13" width="1" height="1" fill="#505050" /></g>
<g shape-rendering="crispEdges"><rect x="515" y="2" width="1" height="10" fill="#2070c0" /><rect x="517" y="7" width="4" height="1" fill="#d03010" /><rect x="517" y="6" width="1" height="3" fill="#d03010" /><rect x="518" y="5" width="1" height="5" fill="#d03010" /></g>
<path d="M540.5 1.5h8l3.5 3.5v8.5h-11.5z" fill="#fff" stroke="#909090" stroke-width="1"/>
<path d="M548.5 1.5v3.5h3.5" fill="#e8e8e8" stroke="#909090" stroke-width="1"/>
<path d="M544 4c-1.5 0-1.5 1-1.5 2.5s0 2-1 2.5c1 .5 1 1 1 2.5" fill="none" stroke="#606060" stroke-width="1"/>
<path d="M548.5 6.5h4v4h4v4h-4v4h-4v-4h-4v-4h4z" fill="url(#grn)" stroke="#0a7a0a" stroke-width="0.8"/>
<polygon points="561.8,7 567.3,7 564.55,10" fill="#000"/>
<circle cx="586" cy="8" r="7" fill="#fff" stroke="url(#blu)" stroke-width="2.2"/>
<path d="M586 4v4.5h3" fill="none" stroke="#555" stroke-width="1.2"/>
<polygon points="600.8,7 606.3,7 603.55,10" fill="#000"/>
<rect x="617.5" y="1.5" width="15" height="13" fill="#fff" stroke="#2a68c0" stroke-width="1.2"/>
<rect x="617.5" y="1.5" width="15" height="2" fill="#4a88d8"/>
<path d="M619.5 7.5l3-1 2 .5 3-1.5 3-.5" fill="none" stroke="#b03818" stroke-width="1.1"/>
<path d="M619.5 12l3-1 2 1 2.5-1.5 3 1.5" fill="none" stroke="#209030" stroke-width="1.1"/>
<line x1="618" y1="9.5" x2="632" y2="9.5" stroke="#2a68c0" stroke-width="0.8"/>
<polygon points="639.8,7 645.3,7 642.55,10" fill="#000"/>
<path d="M669.5 1v12l2.8-2.6 2.2 4.8 1.900-.9-2.2-4.700h3.700z" fill="#404040"/>
<g shape-rendering="crispEdges"><rect x="701" y="1" width="1" height="6" fill="#505050" /><rect x="701" y="10" width="1" height="6" fill="#505050" /><rect x="694" y="8" width="6" height="1" fill="#505050" /><rect x="703" y="8" width="6" height="1" fill="#505050" /></g>
<g shape-rendering="crispEdges"><rect x="735" y="2" width="1" height="13" fill="#505050" /><rect x="758" y="8" width="12" height="1" fill="#505050" /></g>
<line x1="786" y1="15" x2="798" y2="3" stroke="#505050" stroke-width="1.1"/>
<path d="M811.5 10.5l12-9M814.5 14.5l11-9.5M813.5 8v6M816.5 6v6M819.5 4v6M822.5 2v5" stroke="#505050" stroke-width="1" fill="none"/>
<text x="822.5" y="17" font-size="6.5px" font-weight="bold" fill="#303030">E</text>
<line x1="841" y1="1.5" x2="854" y2="1.5" stroke="#505050" stroke-width="1" stroke-dasharray="1,1" shape-rendering="crispEdges"/>
<line x1="841" y1="4.5" x2="854" y2="4.5" stroke="#505050" stroke-width="1" stroke-dasharray="1,1" shape-rendering="crispEdges"/>
<line x1="841" y1="8.5" x2="854" y2="8.5" stroke="#505050" stroke-width="1" stroke-dasharray="1,1" shape-rendering="crispEdges"/>
<line x1="841" y1="12.5" x2="850" y2="12.5" stroke="#505050" stroke-width="1" stroke-dasharray="1,1" shape-rendering="crispEdges"/>
<text x="851" y="17" font-size="6.5px" font-weight="bold" fill="#303030">F</text>
<text x="871" y="12.5" font-size="12px" fill="#505050">A</text>
<rect x="898" y="1.5" width="11" height="13" fill="none" stroke="#505050" stroke-width="1" stroke-dasharray="1,1" shape-rendering="crispEdges"/>
<text x="899.8" y="12.5" font-size="11.5px" font-weight="bold" fill="#505050">T</text>
<path d="M928.5 1.5l3 3-3 3-3-3z" fill="#404040"/><path d="M936 9l3 3-3 3-3-3z" fill="#404040"/><path d="M927 8l2.5 3 5-6" fill="none" stroke="#404040" stroke-width="1.3"/>
<polygon points="946.0,7 951.5,7 948.75,10" fill="#000"/>
<text x="972" y="11.8" font-size="9.5px" fill="#303030" textLength="13" lengthAdjust="spacingAndGlyphs">M1</text>
<text x="1000.5" y="11.8" font-size="9.5px" fill="#303030" textLength="13" lengthAdjust="spacingAndGlyphs">M5</text>
<text x="1026.5" y="11.8" font-size="9.5px" fill="#303030" textLength="18" lengthAdjust="spacingAndGlyphs">M15</text>
<text x="1054.5" y="11.8" font-size="9.5px" fill="#303030" textLength="18" lengthAdjust="spacingAndGlyphs">M30</text>
<text x="1085.5" y="11.8" font-size="9.5px" fill="#303030" textLength="12" lengthAdjust="spacingAndGlyphs">H1</text>
<text x="1112.8" y="11.8" font-size="9.5px" fill="#303030" textLength="12.5" lengthAdjust="spacingAndGlyphs">H4</text>
<text x="1141.5" y="11.8" font-size="9.5px" fill="#303030" textLength="12" lengthAdjust="spacingAndGlyphs">D1</text>
<text x="1168.8" y="11.8" font-size="9.5px" fill="#303030" textLength="15" lengthAdjust="spacingAndGlyphs">W1</text>
<text x="1195.5" y="11.8" font-size="9.5px" fill="#303030" textLength="15" lengthAdjust="spacingAndGlyphs">MN</text>
<line x1="1686.2" y1="8.6" x2="1682" y2="12.8" stroke="#2a60c0" stroke-width="2.2" stroke-linecap="round"/>
<circle cx="1689.3" cy="5.3" r="3.8" fill="#f4f8ff" stroke="#2a60c0" stroke-width="1.4"/>
<path d="M1707.5 16.5l1-3c-4.5-1.5-4.5-6.5 1.5-7.5c5-1 9 1 8.5 4.5c-.5 3-4 3.5-7.5 3.5z" fill="#e6e8f4" stroke="#a8a8b0" stroke-width="1"/>
<circle cx="1719.5" cy="5.8" r="8.2" fill="url(#redb)"/>
<text x="1716" y="10.8" font-size="13px" fill="#fff">1</text>
</svg>
<svg width="222" height="70" viewBox="0 42 222 70" style="position:absolute;left:0;top:42px" font-family="Liberation Sans, sans-serif">
<defs><linearGradient id="tab" x1="0" y1="0" x2="0" y2="1"><stop offset="0" stop-color="#fa5252"/><stop offset="1" stop-color="#e03434"/></linearGradient><linearGradient id="big" x1="0" y1="0" x2="0" y2="1"><stop offset="0" stop-color="#e03232"/><stop offset="1" stop-color="#b00000"/></linearGradient><linearGradient id="spb" x1="0" y1="0" x2="0" y2="1"><stop offset="0" stop-color="#f4f4f4"/><stop offset="0.45" stop-color="#e6e6e6"/><stop offset="0.5" stop-color="#d8d8d8"/><stop offset="1" stop-color="#cdcdcd"/></linearGradient></defs>
<g shape-rendering="crispEdges">
<rect x="0" y="44" width="220" height="65" fill="#fff" />
<rect x="0" y="44" width="51" height="25" fill="#c81010" />
<rect x="0" y="45" width="50" height="24" fill="url(#tab)" />
<rect x="166" y="44" width="52" height="25" fill="#c81010" />
<rect x="167" y="45" width="50" height="24" fill="url(#tab)" />
<rect x="0" y="68" width="108" height="40" fill="url(#big)" />
<rect x="110" y="68" width="108" height="40" fill="url(#big)" />
<rect x="50" y="68" width="58" height="1" fill="#c81010" />
<rect x="110" y="68" width="57" height="1" fill="#c81010" />
<rect x="217" y="68" width="1" height="40" fill="#b80808" />
<rect x="3" y="67" width="44" height="1" fill="#a00000" />
<rect x="3" y="68" width="44" height="1" fill="#f06060" />
<rect x="170" y="67" width="44" height="1" fill="#a00000" />
<rect x="170" y="68" width="44" height="1" fill="#f06060" />
<rect x="53" y="44" width="111" height="22" fill="#a8adb8" />
<rect x="54" y="45" width="109" height="20" fill="#fff" />
<rect x="54" y="45" width="20" height="20" fill="url(#spb)" />
<rect x="74" y="45" width="1" height="20" fill="#a8adb8" />
<rect x="143" y="45" width="20" height="20" fill="url(#spb)" />
<rect x="142" y="45" width="1" height="20" fill="#a8adb8" />
</g>
<polygon points="60.5,53 66.5,53 63.5,56.5" fill="#4a62c0"/>
<polygon points="149.5,56 155.5,56 152.5,52.5" fill="#4a62c0"/>
<text x="138.8" y="59" font-size="12px" fill="#000" text-anchor="end">1.00</text>
<text x="11.3" y="60" font-size="12.5px" fill="#fff" textLength="25.6" lengthAdjust="spacingAndGlyphs">SELL</text>
<text x="179.8" y="60" font-size="12.5px" fill="#fff" textLength="22.7" lengthAdjust="spacingAndGlyphs">BUY</text>
<text x="15.3" y="99" font-size="12.3px" font-weight="bold" fill="#fff" textLength="34.4" lengthAdjust="spacingAndGlyphs">28668</text>
<text x="125" y="99" font-size="12.3px" font-weight="bold" fill="#fff" textLength="34.7" lengthAdjust="spacingAndGlyphs">28691</text>
<rect x="54.5" y="95.3" width="4" height="3.6" fill="#fff" /><rect x="165.5" y="95.3" width="4" height="3.6" fill="#fff" />
<text x="61.3" y="99.2" font-size="35.5px" fill="#fff" textLength="15.6" lengthAdjust="spacingAndGlyphs">5</text>
<text x="172.4" y="99.2" font-size="35.5px" fill="#fff" textLength="15.6" lengthAdjust="spacingAndGlyphs">5</text>
</svg>
</body></html>
